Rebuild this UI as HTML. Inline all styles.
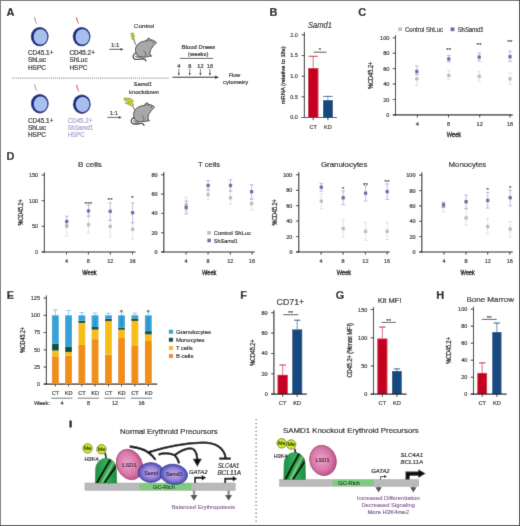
<!DOCTYPE html>
<html><head><meta charset="utf-8"><title>Figure</title>
<style>
html,body{margin:0;padding:0;background:#fff;}
body{width:520px;height:526px;overflow:hidden;}
svg{display:block;will-change:transform;font-family:"Liberation Sans", sans-serif;}
</style></head><body>
<svg width="520" height="526" viewBox="0 0 520 526">
<defs>
<radialGradient id="gp" cx="0.45" cy="0.45" r="0.6"><stop offset="0" stop-color="#eaa6c8"/><stop offset="0.6" stop-color="#d878a8"/><stop offset="1" stop-color="#b44884"/></radialGradient>
<radialGradient id="gb" cx="0.5" cy="0.5" r="0.55"><stop offset="0" stop-color="#c4a6e0"/><stop offset="0.5" stop-color="#9a88d4"/><stop offset="0.82" stop-color="#5a58c0"/><stop offset="1" stop-color="#333cac"/></radialGradient>
<linearGradient id="gn1" x1="0" x2="1"><stop offset="0" stop-color="#1f8e42"/><stop offset="0.5" stop-color="#34b05a"/><stop offset="1" stop-color="#1f8e42"/></linearGradient>
<linearGradient id="gn2" x1="0" x2="1"><stop offset="0" stop-color="#1f8e42"/><stop offset="0.5" stop-color="#34b05a"/><stop offset="1" stop-color="#1f8e42"/></linearGradient>
</defs><filter id="bl" filterUnits="userSpaceOnUse" x="0" y="0" width="520" height="526"><feConvolveMatrix order="3" kernelMatrix="0.01000 0.08000 0.01000 0.08000 0.64000 0.08000 0.01000 0.08000 0.01000" edgeMode="duplicate"/></filter>
<g filter="url(#bl)">
<rect x="0" y="0" width="520" height="526" fill="#fff" />
<text x="6.6" y="15.8" font-size="11" text-anchor="start" fill="#111" font-weight="bold" font-style="normal"  stroke="#111" stroke-width="0.2">A</text>
<text x="269.6" y="16.3" font-size="11" text-anchor="start" fill="#111" font-weight="bold" font-style="normal"  stroke="#111" stroke-width="0.2">B</text>
<text x="358.2" y="15.6" font-size="11" text-anchor="start" fill="#111" font-weight="bold" font-style="normal"  stroke="#111" stroke-width="0.2">C</text>
<text x="6.4" y="160.2" font-size="11" text-anchor="start" fill="#111" font-weight="bold" font-style="normal"  stroke="#111" stroke-width="0.2">D</text>
<text x="6.8" y="298.8" font-size="11" text-anchor="start" fill="#111" font-weight="bold" font-style="normal"  stroke="#111" stroke-width="0.2">E</text>
<text x="240.2" y="298.8" font-size="11" text-anchor="start" fill="#111" font-weight="bold" font-style="normal"  stroke="#111" stroke-width="0.2">F</text>
<text x="335.8" y="299.3" font-size="11" text-anchor="start" fill="#111" font-weight="bold" font-style="normal"  stroke="#111" stroke-width="0.2">G</text>
<text x="436.2" y="299.3" font-size="11" text-anchor="start" fill="#111" font-weight="bold" font-style="normal"  stroke="#111" stroke-width="0.2">H</text>
<text x="69.3" y="427.4" font-size="9.6" text-anchor="start" fill="#111" font-weight="bold" font-style="normal" stroke="#111" stroke-width="0.8">I</text>
<path d="M34.5,17.200000000000003 C35.300000000000004,18.6 34.800000000000004,20.200000000000003 35.5,21.400000000000002 C35.900000000000006,22.200000000000003 36.400000000000006,22.8 36.7,23.700000000000003" stroke="#8a8a8a" stroke-width="0.95" fill="none"/>
<ellipse cx="39.7" cy="36.6" rx="8.9" ry="9.7" fill="#1b2a80"/>
<ellipse cx="40.5" cy="36.9" rx="6.8" ry="7.6" fill="#a7bfee"/>
<path d="M76.39999999999999,17.200000000000003 C77.19999999999999,18.6 76.69999999999999,20.200000000000003 77.39999999999999,21.400000000000002 C77.8,22.200000000000003 78.3,22.8 78.6,23.700000000000003" stroke="#c8302a" stroke-width="0.95" fill="none"/>
<ellipse cx="81.6" cy="36.6" rx="8.9" ry="9.7" fill="#1b2a80"/>
<ellipse cx="82.39999999999999" cy="36.9" rx="6.8" ry="7.6" fill="#a7bfee"/>
<path d="M34.599999999999994,84.30000000000001 C35.4,85.7 34.9,87.30000000000001 35.599999999999994,88.5 C36.0,89.3 36.5,89.9 36.8,90.8" stroke="#8a8a8a" stroke-width="0.95" fill="none"/>
<ellipse cx="39.8" cy="103.7" rx="8.9" ry="9.7" fill="#1b2a80"/>
<ellipse cx="40.599999999999994" cy="104.0" rx="6.8" ry="7.6" fill="#a7bfee"/>
<path d="M76.6,84.80000000000001 C77.39999999999999,86.2 76.89999999999999,87.80000000000001 77.6,89.0 C78.0,89.8 78.5,90.4 78.8,91.3" stroke="#c8302a" stroke-width="0.95" fill="none"/>
<ellipse cx="81.8" cy="104.2" rx="8.9" ry="9.7" fill="#1b2a80"/>
<ellipse cx="82.6" cy="104.5" rx="6.8" ry="7.6" fill="#a7bfee"/>
<text x="28" y="55.0" font-size="6.4" text-anchor="start" fill="#222" font-weight="normal" font-style="normal"  stroke="#222" stroke-width="0.2">CD45.1+</text>
<text x="28" y="62.3" font-size="6.4" text-anchor="start" fill="#222" font-weight="normal" font-style="normal"  stroke="#222" stroke-width="0.2">ShLuc</text>
<text x="28" y="69.6" font-size="6.4" text-anchor="start" fill="#222" font-weight="normal" font-style="normal"  stroke="#222" stroke-width="0.2">HSPC</text>
<text x="69.5" y="55.0" font-size="6.4" text-anchor="start" fill="#222" font-weight="normal" font-style="normal"  stroke="#222" stroke-width="0.2">CD45.2+</text>
<text x="69.5" y="62.3" font-size="6.4" text-anchor="start" fill="#222" font-weight="normal" font-style="normal"  stroke="#222" stroke-width="0.2">ShLuc</text>
<text x="69.5" y="69.6" font-size="6.4" text-anchor="start" fill="#222" font-weight="normal" font-style="normal"  stroke="#222" stroke-width="0.2">HSPC</text>
<text x="28" y="122.7" font-size="6.4" text-anchor="start" fill="#222" font-weight="normal" font-style="normal"  stroke="#222" stroke-width="0.2">CD45.1+</text>
<text x="28" y="130.0" font-size="6.4" text-anchor="start" fill="#222" font-weight="normal" font-style="normal"  stroke="#222" stroke-width="0.2">ShLuc</text>
<text x="28" y="137.3" font-size="6.4" text-anchor="start" fill="#222" font-weight="normal" font-style="normal"  stroke="#222" stroke-width="0.2">HSPC</text>
<text x="67.7" y="122.6" font-size="6.4" fill="#a49ed6" textLength="24.6" lengthAdjust="spacingAndGlyphs" stroke="#a49ed6" stroke-width="0.2">CD45.2+</text>
<text x="67.7" y="129.6" font-size="6.4" fill="#a49ed6" textLength="25.2" lengthAdjust="spacingAndGlyphs" stroke="#a49ed6" stroke-width="0.2">Sh<tspan font-style="italic">Samd1</tspan></text>
<text x="67.7" y="136.6" font-size="6.4" fill="#a49ed6" textLength="17" lengthAdjust="spacingAndGlyphs" stroke="#a49ed6" stroke-width="0.2">HSPC</text>
<text x="115.1" y="46.6" font-size="6" text-anchor="middle" fill="#222" font-weight="normal" font-style="normal"  stroke="#222" stroke-width="0.2">1:1</text>
<line x1="109.2" y1="49.3" x2="121.1" y2="49.3" stroke="#222" stroke-width="0.8" />
<polygon points="123.6,49.3 120.6,47.9 120.6,50.699999999999996" fill="#222"/>
<text x="113.8" y="114.7" font-size="6" text-anchor="middle" fill="#222" font-weight="normal" font-style="normal"  stroke="#222" stroke-width="0.2">1:1</text>
<line x1="107.4" y1="117.4" x2="119.3" y2="117.4" stroke="#222" stroke-width="0.8" />
<polygon points="121.8,117.4 118.8,116.0 118.8,118.80000000000001" fill="#222"/>
<text x="144" y="27.6" font-size="6.1" text-anchor="middle" fill="#2a2a2a" font-weight="normal" font-style="normal" textLength="20.3" lengthAdjust="spacingAndGlyphs" stroke="#2a2a2a" stroke-width="0.2">Control</text>
<text x="142.8" y="86.1" font-size="6" text-anchor="middle" fill="#2a2a2a" font-weight="normal" font-style="italic" textLength="18.6" lengthAdjust="spacingAndGlyphs" stroke="#2a2a2a" stroke-width="0.2">Samd1</text>
<text x="143.9" y="93.8" font-size="6" text-anchor="middle" fill="#2a2a2a" font-weight="normal" font-style="normal" textLength="29.7" lengthAdjust="spacingAndGlyphs" stroke="#2a2a2a" stroke-width="0.2">knockdown</text>
<g transform="translate(1.9,-64.6)">
<path d="M134.8,117.6 C131.2,117.4 130.2,122 132.6,123.6 C135.2,125.2 139,123 142,123.5 C143.6,123.9 144.1,124.9 144.1,126" stroke="#1e1e1e" stroke-width="1.15" fill="none"/>
<path d="M134.6,119 C133.2,116.5 133.2,112.5 134.6,110.6 C136.2,107.8 139,106.4 142,105.8 C144.5,105.3 146.5,104.6 148.6,104.5 C150.8,104.4 152.8,105.4 154.7,107.1 C153.6,108.6 152.6,109.6 151.4,110.3 C150.6,111.8 149.6,113.2 148.8,114.3 C148.2,116 147.8,117.8 148,119.4 L149.8,120.6 L146.6,121.2 C143.6,121.8 140.2,122 137.6,121.4 C136.2,121 135.2,120.2 134.6,119 Z" fill="#a8a8a8" stroke="#2e2e2e" stroke-width="0.85"/>
<path d="M145.2,106 C144.6,104.2 145.4,102.8 146.9,102.8 C148.4,102.9 148.9,104.4 148.2,105.8" fill="#a8a8a8" stroke="#2e2e2e" stroke-width="0.8"/>
<path d="M146,105.4 C146,104.4 146.8,103.9 147.5,104.5" fill="none" stroke="#555" stroke-width="0.5"/>
<path d="M133.4,120.4 C133.2,122.8 137.6,123.4 139.4,121.6 C137.6,121.6 135,121.4 133.4,120.4 Z" fill="#fafafa" stroke="#2e2e2e" stroke-width="0.6"/>
<path d="M141.5,115.5 C143.6,116.4 144.4,118.6 143.6,121" stroke="#3a3a3a" stroke-width="0.6" fill="none"/>
<circle cx="151.2" cy="106.9" r="0.55" fill="#222"/>
</g>
<g transform="translate(0,0)">
<path d="M134.8,117.6 C131.2,117.4 130.2,122 132.6,123.6 C135.2,125.2 139,123 142,123.5 C143.6,123.9 144.1,124.9 144.1,126" stroke="#1e1e1e" stroke-width="1.15" fill="none"/>
<path d="M134.6,119 C133.2,116.5 133.2,112.5 134.6,110.6 C136.2,107.8 139,106.4 142,105.8 C144.5,105.3 146.5,104.6 148.6,104.5 C150.8,104.4 152.8,105.4 154.7,107.1 C153.6,108.6 152.6,109.6 151.4,110.3 C150.6,111.8 149.6,113.2 148.8,114.3 C148.2,116 147.8,117.8 148,119.4 L149.8,120.6 L146.6,121.2 C143.6,121.8 140.2,122 137.6,121.4 C136.2,121 135.2,120.2 134.6,119 Z" fill="#a8a8a8" stroke="#2e2e2e" stroke-width="0.85"/>
<path d="M145.2,106 C144.6,104.2 145.4,102.8 146.9,102.8 C148.4,102.9 148.9,104.4 148.2,105.8" fill="#a8a8a8" stroke="#2e2e2e" stroke-width="0.8"/>
<path d="M146,105.4 C146,104.4 146.8,103.9 147.5,104.5" fill="none" stroke="#555" stroke-width="0.5"/>
<path d="M133.4,120.4 C133.2,122.8 137.6,123.4 139.4,121.6 C137.6,121.6 135,121.4 133.4,120.4 Z" fill="#fafafa" stroke="#2e2e2e" stroke-width="0.6"/>
<path d="M141.5,115.5 C143.6,116.4 144.4,118.6 143.6,121" stroke="#3a3a3a" stroke-width="0.6" fill="none"/>
<circle cx="151.2" cy="106.9" r="0.55" fill="#222"/>
</g>
<g transform="translate(130.6,33) scale(1.0)">
<polygon points="0.6,0 3.4,0.4 2.2,2.6 4.2,3 2.4,5.4 3.8,5.8 4.2,8.2 1,5.6 2.2,5.2 0.4,3.2 1.8,2.8 0,1" fill="#c6d41e" stroke="#6e7410" stroke-width="0.55"/>
</g>
<line x1="134.2" y1="41" x2="135.8" y2="44.8" stroke="#3a3a78" stroke-width="0.9"/>
<line x1="132.6" y1="105.4" x2="134.6" y2="109.8" stroke="#3a3a78" stroke-width="0.9"/>
<polygon points="124,97.9 130.6,98.5 133.7,101.1 131.3,101.6 133.9,104.5 131.7,106.2 124.9,102.7 129.5,103.1 127.7,101.1 124.3,100.3" fill="#ccd81e" stroke="#6e7410" stroke-width="0.55" stroke-linejoin="round"/>
<path d="M126,99.3 L130.6,99.9 M126.4,101.6 L130.8,102.2" stroke="#a8b010" stroke-width="0.5"/>
<line x1="12" y1="78.1" x2="168.6" y2="78.1" stroke="#8a8a8a" stroke-width="1.1" stroke-dasharray="1 1.05"/>
<text x="198.4" y="48.7" font-size="5.8" text-anchor="middle" fill="#2a2a2a" font-weight="normal" font-style="normal" textLength="33.7" lengthAdjust="spacingAndGlyphs" stroke="#2a2a2a" stroke-width="0.2">Blood Draws</text>
<text x="198.2" y="55.6" font-size="5.8" text-anchor="middle" fill="#2a2a2a" font-weight="normal" font-style="normal" textLength="20.3" lengthAdjust="spacingAndGlyphs" stroke="#2a2a2a" stroke-width="0.2">(weeks)</text>
<line x1="179.8" y1="58.4" x2="213.1" y2="58.4" stroke="#3a3a3a" stroke-width="0.9" />
<text x="178.8" y="67.7" font-size="5.6" text-anchor="middle" fill="#222" font-weight="normal" font-style="normal"  stroke="#222" stroke-width="0.2">4</text>
<line x1="178.8" y1="68.8" x2="178.8" y2="73.5" stroke="#222" stroke-width="0.6" />
<polygon points="178.8,75.8 177.70000000000002,73 179.9,73" fill="#222"/>
<text x="189.7" y="67.7" font-size="5.6" text-anchor="middle" fill="#222" font-weight="normal" font-style="normal"  stroke="#222" stroke-width="0.2">8</text>
<line x1="189.7" y1="68.8" x2="189.7" y2="73.5" stroke="#222" stroke-width="0.6" />
<polygon points="189.7,75.8 188.6,73 190.79999999999998,73" fill="#222"/>
<text x="200.4" y="67.7" font-size="5.6" text-anchor="middle" fill="#222" font-weight="normal" font-style="normal"  stroke="#222" stroke-width="0.2">12</text>
<line x1="200.4" y1="68.8" x2="200.4" y2="73.5" stroke="#222" stroke-width="0.6" />
<polygon points="200.4,75.8 199.3,73 201.5,73" fill="#222"/>
<text x="209.9" y="67.7" font-size="5.6" text-anchor="middle" fill="#222" font-weight="normal" font-style="normal"  stroke="#222" stroke-width="0.2">16</text>
<line x1="209.9" y1="68.8" x2="209.9" y2="73.5" stroke="#222" stroke-width="0.6" />
<polygon points="209.9,75.8 208.8,73 211.0,73" fill="#222"/>
<line x1="172.5" y1="77.2" x2="216" y2="77.2" stroke="#1a1a1a" stroke-width="1.1" />
<polygon points="219,77.2 215,75.4 215,79" fill="#1a1a1a"/>
<text x="234.5" y="76.5" font-size="5.7" text-anchor="middle" fill="#2a2a2a" font-weight="normal" font-style="normal" textLength="11.7" lengthAdjust="spacingAndGlyphs" stroke="#2a2a2a" stroke-width="0.2">Flow</text>
<text x="235.6" y="84" font-size="5.8" text-anchor="middle" fill="#2a2a2a" font-weight="normal" font-style="normal" textLength="25" lengthAdjust="spacingAndGlyphs" stroke="#2a2a2a" stroke-width="0.2">cytometry</text>
<text x="320" y="28" font-size="8.6" text-anchor="middle" fill="#2a2a2a" font-weight="normal" font-style="italic" textLength="24" lengthAdjust="spacingAndGlyphs" stroke="#2a2a2a" stroke-width="0.2">Samd1</text>
<line x1="304.4" y1="32.199999999999996" x2="304.4" y2="118.05" stroke="#1e1e1e" stroke-width="1.1" />
<line x1="301.59999999999997" y1="34.8" x2="304.4" y2="34.8" stroke="#1e1e1e" stroke-width="0.9" />
<text x="297.79999999999995" y="36.779999999999994" font-size="5.5" text-anchor="end" fill="#2a2a2a" font-weight="normal" font-style="normal"  stroke="#2a2a2a" stroke-width="0.2">2.0</text>
<line x1="301.59999999999997" y1="55.5" x2="304.4" y2="55.5" stroke="#1e1e1e" stroke-width="0.9" />
<text x="297.79999999999995" y="57.48" font-size="5.5" text-anchor="end" fill="#2a2a2a" font-weight="normal" font-style="normal"  stroke="#2a2a2a" stroke-width="0.2">1.5</text>
<line x1="301.59999999999997" y1="76.2" x2="304.4" y2="76.2" stroke="#1e1e1e" stroke-width="0.9" />
<text x="297.79999999999995" y="78.18" font-size="5.5" text-anchor="end" fill="#2a2a2a" font-weight="normal" font-style="normal"  stroke="#2a2a2a" stroke-width="0.2">1.0</text>
<line x1="301.59999999999997" y1="96.8" x2="304.4" y2="96.8" stroke="#1e1e1e" stroke-width="0.9" />
<text x="297.79999999999995" y="98.78" font-size="5.5" text-anchor="end" fill="#2a2a2a" font-weight="normal" font-style="normal"  stroke="#2a2a2a" stroke-width="0.2">0.5</text>
<line x1="301.59999999999997" y1="117.5" x2="304.4" y2="117.5" stroke="#1e1e1e" stroke-width="0.9" />
<text x="297.79999999999995" y="119.48" font-size="5.5" text-anchor="end" fill="#2a2a2a" font-weight="normal" font-style="normal"  stroke="#2a2a2a" stroke-width="0.2">0.0</text>
<line x1="301.4" y1="117.5" x2="336.9" y2="117.5" stroke="#1e1e1e" stroke-width="1.2" />
<line x1="313.2" y1="117.5" x2="313.2" y2="120.1" stroke="#1e1e1e" stroke-width="0.9" />
<text x="313.2" y="128.7" font-size="5.6" text-anchor="middle" fill="#2a2a2a" font-weight="normal" font-style="normal"  stroke="#2a2a2a" stroke-width="0.2">CT</text>
<line x1="327.9" y1="117.5" x2="327.9" y2="120.1" stroke="#1e1e1e" stroke-width="0.9" />
<text x="327.9" y="128.7" font-size="5.6" text-anchor="middle" fill="#2a2a2a" font-weight="normal" font-style="normal"  stroke="#2a2a2a" stroke-width="0.2">KD</text>
<rect x="308.1" y="68" width="10.3" height="49.5" fill="#c60022" />
<rect x="323.0" y="100.1" width="9.9" height="17.4" fill="#124a80" />
<line x1="313.2" y1="68" x2="313.2" y2="56.3" stroke="#d85a6c" stroke-width="0.9" />
<line x1="308.6" y1="56.3" x2="317.8" y2="56.3" stroke="#c60022" stroke-width="0.9" />
<line x1="327.9" y1="100" x2="327.9" y2="96.4" stroke="#7d97c0" stroke-width="0.9" />
<line x1="323.2" y1="96.4" x2="332.6" y2="96.4" stroke="#124a80" stroke-width="0.9" />
<line x1="313.6" y1="52.2" x2="326.5" y2="52.2" stroke="#1e1e1e" stroke-width="0.8" />
<text x="320" y="52.2" font-size="6" text-anchor="middle" fill="#222" font-weight="normal" font-style="normal" letter-spacing="0.25" stroke="#222" stroke-width="0.1">*</text>
<text transform="translate(284.87399999999997,75.3) rotate(-90)" x="0" y="0" font-size="6.2" text-anchor="middle" fill="#1a1a1a" stroke="#1a1a1a" stroke-width="0.3" textLength="57.8" lengthAdjust="spacingAndGlyphs">mRNA (relative to 18s)</text>
<line x1="395.5" y1="35.199999999999996" x2="395.5" y2="115.45" stroke="#1e1e1e" stroke-width="1.1" />
<line x1="392.7" y1="37.8" x2="395.5" y2="37.8" stroke="#1e1e1e" stroke-width="0.9" />
<text x="389.4" y="39.815999999999995" font-size="5.6" text-anchor="end" fill="#2a2a2a" font-weight="normal" font-style="normal"  stroke="#2a2a2a" stroke-width="0.2">100</text>
<line x1="392.7" y1="53.2" x2="395.5" y2="53.2" stroke="#1e1e1e" stroke-width="0.9" />
<text x="389.4" y="55.216" font-size="5.6" text-anchor="end" fill="#2a2a2a" font-weight="normal" font-style="normal"  stroke="#2a2a2a" stroke-width="0.2">80</text>
<line x1="392.7" y1="68.6" x2="395.5" y2="68.6" stroke="#1e1e1e" stroke-width="0.9" />
<text x="389.4" y="70.616" font-size="5.6" text-anchor="end" fill="#2a2a2a" font-weight="normal" font-style="normal"  stroke="#2a2a2a" stroke-width="0.2">60</text>
<line x1="392.7" y1="84.1" x2="395.5" y2="84.1" stroke="#1e1e1e" stroke-width="0.9" />
<text x="389.4" y="86.116" font-size="5.6" text-anchor="end" fill="#2a2a2a" font-weight="normal" font-style="normal"  stroke="#2a2a2a" stroke-width="0.2">40</text>
<line x1="392.7" y1="99.5" x2="395.5" y2="99.5" stroke="#1e1e1e" stroke-width="0.9" />
<text x="389.4" y="101.516" font-size="5.6" text-anchor="end" fill="#2a2a2a" font-weight="normal" font-style="normal"  stroke="#2a2a2a" stroke-width="0.2">20</text>
<line x1="392.7" y1="114.9" x2="395.5" y2="114.9" stroke="#1e1e1e" stroke-width="0.9" />
<text x="389.4" y="116.91600000000001" font-size="5.6" text-anchor="end" fill="#2a2a2a" font-weight="normal" font-style="normal"  stroke="#2a2a2a" stroke-width="0.2">0</text>
<line x1="393" y1="114.9" x2="512.7" y2="114.9" stroke="#1e1e1e" stroke-width="1.2" />
<line x1="417.3" y1="114.9" x2="417.3" y2="117.5" stroke="#1e1e1e" stroke-width="0.9" />
<text x="417.3" y="125.80000000000001" font-size="5.6" text-anchor="middle" fill="#2a2a2a" font-weight="normal" font-style="normal"  stroke="#2a2a2a" stroke-width="0.2">4</text>
<line x1="448.5" y1="114.9" x2="448.5" y2="117.5" stroke="#1e1e1e" stroke-width="0.9" />
<text x="448.5" y="125.80000000000001" font-size="5.6" text-anchor="middle" fill="#2a2a2a" font-weight="normal" font-style="normal"  stroke="#2a2a2a" stroke-width="0.2">8</text>
<line x1="479.7" y1="114.9" x2="479.7" y2="117.5" stroke="#1e1e1e" stroke-width="0.9" />
<text x="479.7" y="125.80000000000001" font-size="5.6" text-anchor="middle" fill="#2a2a2a" font-weight="normal" font-style="normal"  stroke="#2a2a2a" stroke-width="0.2">12</text>
<line x1="510" y1="114.9" x2="510" y2="117.5" stroke="#1e1e1e" stroke-width="0.9" />
<text x="510" y="125.80000000000001" font-size="5.6" text-anchor="middle" fill="#2a2a2a" font-weight="normal" font-style="normal"  stroke="#2a2a2a" stroke-width="0.2">16</text>
<text x="454" y="137" font-size="7.4" text-anchor="middle" fill="#111" stroke="#111" stroke-width="0.38" textLength="14.4" lengthAdjust="spacingAndGlyphs">Week</text>
<text transform="translate(373.49,75.4) rotate(-90)" x="0" y="0" font-size="7" text-anchor="middle" fill="#1a1a1a" stroke="#1a1a1a" stroke-width="0.3" textLength="27.4" lengthAdjust="spacingAndGlyphs">%CD45.2+</text>
<rect x="398.3" y="27.4" width="3.6" height="3.6" fill="#bdbdbd" />
<text x="405" y="31.8" font-size="6.4" text-anchor="start" fill="#2a2a2a" font-weight="normal" font-style="normal" textLength="38" lengthAdjust="spacingAndGlyphs" stroke="#2a2a2a" stroke-width="0.2">Control ShLuc</text>
<rect x="450.6" y="27.4" width="3.8" height="3.8" fill="#6a6aa6" />
<text x="457.7" y="31.8" font-size="6.4" fill="#2a2a2a" textLength="25.9" lengthAdjust="spacingAndGlyphs" stroke="#2a2a2a" stroke-width="0.2">Sh<tspan font-style="italic">Samd1</tspan></text>
<line x1="416.8" y1="74.8" x2="416.8" y2="85.9" stroke="#d6d6d6" stroke-width="0.65" />
<line x1="414.90000000000003" y1="74.8" x2="418.7" y2="74.8" stroke="#d6d6d6" stroke-width="0.65" />
<line x1="414.90000000000003" y1="85.9" x2="418.7" y2="85.9" stroke="#d6d6d6" stroke-width="0.65" />
<rect x="415.15000000000003" y="77.14999999999999" width="3.3" height="3.3" fill="#bdbdbd" />
<line x1="416.8" y1="66" x2="416.8" y2="74.4" stroke="#9a9acc" stroke-width="0.65" />
<line x1="414.90000000000003" y1="66" x2="418.7" y2="66" stroke="#9a9acc" stroke-width="0.65" />
<line x1="414.90000000000003" y1="74.4" x2="418.7" y2="74.4" stroke="#9a9acc" stroke-width="0.65" />
<rect x="415.15000000000003" y="69.85" width="3.3" height="3.3" fill="#6a6aa6" />
<line x1="448.8" y1="70.8" x2="448.8" y2="79.7" stroke="#d6d6d6" stroke-width="0.65" />
<line x1="446.90000000000003" y1="70.8" x2="450.7" y2="70.8" stroke="#d6d6d6" stroke-width="0.65" />
<line x1="446.90000000000003" y1="79.7" x2="450.7" y2="79.7" stroke="#d6d6d6" stroke-width="0.65" />
<rect x="447.15000000000003" y="73.85" width="3.3" height="3.3" fill="#bdbdbd" />
<line x1="448.8" y1="55.4" x2="448.8" y2="62" stroke="#9a9acc" stroke-width="0.65" />
<line x1="446.90000000000003" y1="55.4" x2="450.7" y2="55.4" stroke="#9a9acc" stroke-width="0.65" />
<line x1="446.90000000000003" y1="62" x2="450.7" y2="62" stroke="#9a9acc" stroke-width="0.65" />
<rect x="447.15000000000003" y="57.25" width="3.3" height="3.3" fill="#6a6aa6" />
<line x1="479.2" y1="71.5" x2="479.2" y2="81" stroke="#d6d6d6" stroke-width="0.65" />
<line x1="477.3" y1="71.5" x2="481.09999999999997" y2="71.5" stroke="#d6d6d6" stroke-width="0.65" />
<line x1="477.3" y1="81" x2="481.09999999999997" y2="81" stroke="#d6d6d6" stroke-width="0.65" />
<rect x="477.55" y="74.75" width="3.3" height="3.3" fill="#bdbdbd" />
<line x1="479.2" y1="53.1" x2="479.2" y2="61.1" stroke="#9a9acc" stroke-width="0.65" />
<line x1="477.3" y1="53.1" x2="481.09999999999997" y2="53.1" stroke="#9a9acc" stroke-width="0.65" />
<line x1="477.3" y1="61.1" x2="481.09999999999997" y2="61.1" stroke="#9a9acc" stroke-width="0.65" />
<rect x="477.55" y="55.45" width="3.3" height="3.3" fill="#6a6aa6" />
<line x1="510" y1="73" x2="510" y2="84.1" stroke="#d6d6d6" stroke-width="0.65" />
<line x1="508.1" y1="73" x2="511.9" y2="73" stroke="#d6d6d6" stroke-width="0.65" />
<line x1="508.1" y1="84.1" x2="511.9" y2="84.1" stroke="#d6d6d6" stroke-width="0.65" />
<rect x="508.35" y="77.14999999999999" width="3.3" height="3.3" fill="#bdbdbd" />
<line x1="510" y1="51.2" x2="510" y2="61.5" stroke="#9a9acc" stroke-width="0.65" />
<line x1="508.1" y1="51.2" x2="511.9" y2="51.2" stroke="#9a9acc" stroke-width="0.65" />
<line x1="508.1" y1="61.5" x2="511.9" y2="61.5" stroke="#9a9acc" stroke-width="0.65" />
<rect x="508.35" y="55.050000000000004" width="3.3" height="3.3" fill="#6a6aa6" />
<text x="448.8" y="51.9" font-size="6" text-anchor="middle" fill="#222" font-weight="normal" font-style="normal" letter-spacing="0.25" stroke="#222" stroke-width="0.1">**</text>
<text x="479.2" y="47.0" font-size="6" text-anchor="middle" fill="#222" font-weight="normal" font-style="normal" letter-spacing="0.25" stroke="#222" stroke-width="0.1">**</text>
<text x="510" y="43.5" font-size="6" text-anchor="middle" fill="#222" font-weight="normal" font-style="normal" letter-spacing="0.25" stroke="#222" stroke-width="0.1">**</text>
<line x1="44.4" y1="172.4" x2="44.4" y2="252.55" stroke="#1e1e1e" stroke-width="1.1" />
<line x1="41.6" y1="175" x2="44.4" y2="175" stroke="#1e1e1e" stroke-width="0.9" />
<text x="38.1" y="176.98" font-size="5.5" text-anchor="end" fill="#2a2a2a" font-weight="normal" font-style="normal"  stroke="#2a2a2a" stroke-width="0.2">150</text>
<line x1="41.6" y1="200.7" x2="44.4" y2="200.7" stroke="#1e1e1e" stroke-width="0.9" />
<text x="38.1" y="202.67999999999998" font-size="5.5" text-anchor="end" fill="#2a2a2a" font-weight="normal" font-style="normal"  stroke="#2a2a2a" stroke-width="0.2">100</text>
<line x1="41.6" y1="226.3" x2="44.4" y2="226.3" stroke="#1e1e1e" stroke-width="0.9" />
<text x="38.1" y="228.28" font-size="5.5" text-anchor="end" fill="#2a2a2a" font-weight="normal" font-style="normal"  stroke="#2a2a2a" stroke-width="0.2">50</text>
<line x1="41.6" y1="252" x2="44.4" y2="252" stroke="#1e1e1e" stroke-width="0.9" />
<text x="38.1" y="253.98" font-size="5.5" text-anchor="end" fill="#2a2a2a" font-weight="normal" font-style="normal"  stroke="#2a2a2a" stroke-width="0.2">0</text>
<line x1="41.8" y1="252" x2="135.5" y2="252" stroke="#1e1e1e" stroke-width="1.2" />
<line x1="66.5" y1="252" x2="66.5" y2="254.6" stroke="#1e1e1e" stroke-width="0.9" />
<text x="66.5" y="263.1" font-size="5.5" text-anchor="middle" fill="#2a2a2a" font-weight="normal" font-style="normal"  stroke="#2a2a2a" stroke-width="0.2">4</text>
<line x1="88.4" y1="252" x2="88.4" y2="254.6" stroke="#1e1e1e" stroke-width="0.9" />
<text x="88.4" y="263.1" font-size="5.5" text-anchor="middle" fill="#2a2a2a" font-weight="normal" font-style="normal"  stroke="#2a2a2a" stroke-width="0.2">8</text>
<line x1="110.3" y1="252" x2="110.3" y2="254.6" stroke="#1e1e1e" stroke-width="0.9" />
<text x="110.3" y="263.1" font-size="5.5" text-anchor="middle" fill="#2a2a2a" font-weight="normal" font-style="normal"  stroke="#2a2a2a" stroke-width="0.2">12</text>
<line x1="132.5" y1="252" x2="132.5" y2="254.6" stroke="#1e1e1e" stroke-width="0.9" />
<text x="132.5" y="263.1" font-size="5.5" text-anchor="middle" fill="#2a2a2a" font-weight="normal" font-style="normal"  stroke="#2a2a2a" stroke-width="0.2">16</text>
<text x="90" y="167.1" font-size="8" text-anchor="middle" fill="#1e1e1e" font-weight="normal" font-style="normal" textLength="23.8" lengthAdjust="spacingAndGlyphs" stroke="#1e1e1e" stroke-width="0.2">B cells</text>
<text x="89.5" y="274.6" font-size="7.4" text-anchor="middle" fill="#111" stroke="#111" stroke-width="0.38" textLength="14.4" lengthAdjust="spacingAndGlyphs">Week</text>
<text transform="translate(22.582,212.4) rotate(-90)" x="0" y="0" font-size="6.6" text-anchor="middle" fill="#1a1a1a" stroke="#1a1a1a" stroke-width="0.3" textLength="26.2" lengthAdjust="spacingAndGlyphs">%CD45.2+</text>
<line x1="66.7" y1="221" x2="66.7" y2="235.9" stroke="#d6d6d6" stroke-width="0.65" />
<line x1="64.8" y1="221" x2="68.60000000000001" y2="221" stroke="#d6d6d6" stroke-width="0.65" />
<line x1="64.8" y1="235.9" x2="68.60000000000001" y2="235.9" stroke="#d6d6d6" stroke-width="0.65" />
<rect x="65.05" y="224.75" width="3.3" height="3.3" fill="#bdbdbd" />
<line x1="66.7" y1="216.2" x2="66.7" y2="225" stroke="#9a9acc" stroke-width="0.65" />
<line x1="64.8" y1="216.2" x2="68.60000000000001" y2="216.2" stroke="#9a9acc" stroke-width="0.65" />
<line x1="64.8" y1="225" x2="68.60000000000001" y2="225" stroke="#9a9acc" stroke-width="0.65" />
<rect x="65.05" y="219.85" width="3.3" height="3.3" fill="#6a6aa6" />
<line x1="88.5" y1="216" x2="88.5" y2="232.9" stroke="#d6d6d6" stroke-width="0.65" />
<line x1="86.6" y1="216" x2="90.4" y2="216" stroke="#d6d6d6" stroke-width="0.65" />
<line x1="86.6" y1="232.9" x2="90.4" y2="232.9" stroke="#d6d6d6" stroke-width="0.65" />
<rect x="86.85" y="223.04999999999998" width="3.3" height="3.3" fill="#bdbdbd" />
<line x1="88.5" y1="205.1" x2="88.5" y2="216.2" stroke="#9a9acc" stroke-width="0.65" />
<line x1="86.6" y1="205.1" x2="90.4" y2="205.1" stroke="#9a9acc" stroke-width="0.65" />
<line x1="86.6" y1="216.2" x2="90.4" y2="216.2" stroke="#9a9acc" stroke-width="0.65" />
<rect x="86.85" y="209.25" width="3.3" height="3.3" fill="#6a6aa6" />
<line x1="110.2" y1="220.3" x2="110.2" y2="236.7" stroke="#d6d6d6" stroke-width="0.65" />
<line x1="108.3" y1="220.3" x2="112.10000000000001" y2="220.3" stroke="#d6d6d6" stroke-width="0.65" />
<line x1="108.3" y1="236.7" x2="112.10000000000001" y2="236.7" stroke="#d6d6d6" stroke-width="0.65" />
<rect x="108.55" y="224.75" width="3.3" height="3.3" fill="#bdbdbd" />
<line x1="110.2" y1="202.8" x2="110.2" y2="220.3" stroke="#9a9acc" stroke-width="0.65" />
<line x1="108.3" y1="202.8" x2="112.10000000000001" y2="202.8" stroke="#9a9acc" stroke-width="0.65" />
<line x1="108.3" y1="220.3" x2="112.10000000000001" y2="220.3" stroke="#9a9acc" stroke-width="0.65" />
<rect x="108.55" y="209.65" width="3.3" height="3.3" fill="#6a6aa6" />
<line x1="132.6" y1="222.8" x2="132.6" y2="239.1" stroke="#d6d6d6" stroke-width="0.65" />
<line x1="130.7" y1="222.8" x2="134.5" y2="222.8" stroke="#d6d6d6" stroke-width="0.65" />
<line x1="130.7" y1="239.1" x2="134.5" y2="239.1" stroke="#d6d6d6" stroke-width="0.65" />
<rect x="130.95" y="227.65" width="3.3" height="3.3" fill="#bdbdbd" />
<line x1="132.6" y1="202.8" x2="132.6" y2="222.8" stroke="#9a9acc" stroke-width="0.65" />
<line x1="130.7" y1="202.8" x2="134.5" y2="202.8" stroke="#9a9acc" stroke-width="0.65" />
<line x1="130.7" y1="222.8" x2="134.5" y2="222.8" stroke="#9a9acc" stroke-width="0.65" />
<rect x="130.95" y="211.04999999999998" width="3.3" height="3.3" fill="#6a6aa6" />
<text x="88.5" y="205.5" font-size="6" text-anchor="middle" fill="#222" font-weight="normal" font-style="normal" letter-spacing="0.25" stroke="#222" stroke-width="0.1">***</text>
<text x="110.2" y="201.5" font-size="6" text-anchor="middle" fill="#222" font-weight="normal" font-style="normal" letter-spacing="0.25" stroke="#222" stroke-width="0.1">**</text>
<text x="132.6" y="200.2" font-size="6" text-anchor="middle" fill="#222" font-weight="normal" font-style="normal" letter-spacing="0.25" stroke="#222" stroke-width="0.1">*</text>
<line x1="163.8" y1="172.20000000000002" x2="163.8" y2="252.55" stroke="#1e1e1e" stroke-width="1.1" />
<line x1="161.0" y1="174.8" x2="163.8" y2="174.8" stroke="#1e1e1e" stroke-width="0.9" />
<text x="157.5" y="176.78" font-size="5.5" text-anchor="end" fill="#2a2a2a" font-weight="normal" font-style="normal"  stroke="#2a2a2a" stroke-width="0.2">80</text>
<line x1="161.0" y1="194.1" x2="163.8" y2="194.1" stroke="#1e1e1e" stroke-width="0.9" />
<text x="157.5" y="196.07999999999998" font-size="5.5" text-anchor="end" fill="#2a2a2a" font-weight="normal" font-style="normal"  stroke="#2a2a2a" stroke-width="0.2">60</text>
<line x1="161.0" y1="213.4" x2="163.8" y2="213.4" stroke="#1e1e1e" stroke-width="0.9" />
<text x="157.5" y="215.38" font-size="5.5" text-anchor="end" fill="#2a2a2a" font-weight="normal" font-style="normal"  stroke="#2a2a2a" stroke-width="0.2">40</text>
<line x1="161.0" y1="232.7" x2="163.8" y2="232.7" stroke="#1e1e1e" stroke-width="0.9" />
<text x="157.5" y="234.67999999999998" font-size="5.5" text-anchor="end" fill="#2a2a2a" font-weight="normal" font-style="normal"  stroke="#2a2a2a" stroke-width="0.2">20</text>
<line x1="161.0" y1="252" x2="163.8" y2="252" stroke="#1e1e1e" stroke-width="0.9" />
<text x="157.5" y="253.98" font-size="5.5" text-anchor="end" fill="#2a2a2a" font-weight="normal" font-style="normal"  stroke="#2a2a2a" stroke-width="0.2">0</text>
<line x1="161.20000000000002" y1="252" x2="254.8" y2="252" stroke="#1e1e1e" stroke-width="1.2" />
<line x1="186.1" y1="252" x2="186.1" y2="254.6" stroke="#1e1e1e" stroke-width="0.9" />
<text x="186.1" y="263.1" font-size="5.5" text-anchor="middle" fill="#2a2a2a" font-weight="normal" font-style="normal"  stroke="#2a2a2a" stroke-width="0.2">4</text>
<line x1="208.1" y1="252" x2="208.1" y2="254.6" stroke="#1e1e1e" stroke-width="0.9" />
<text x="208.1" y="263.1" font-size="5.5" text-anchor="middle" fill="#2a2a2a" font-weight="normal" font-style="normal"  stroke="#2a2a2a" stroke-width="0.2">8</text>
<line x1="230.3" y1="252" x2="230.3" y2="254.6" stroke="#1e1e1e" stroke-width="0.9" />
<text x="230.3" y="263.1" font-size="5.5" text-anchor="middle" fill="#2a2a2a" font-weight="normal" font-style="normal"  stroke="#2a2a2a" stroke-width="0.2">12</text>
<line x1="252.1" y1="252" x2="252.1" y2="254.6" stroke="#1e1e1e" stroke-width="0.9" />
<text x="252.1" y="263.1" font-size="5.5" text-anchor="middle" fill="#2a2a2a" font-weight="normal" font-style="normal"  stroke="#2a2a2a" stroke-width="0.2">16</text>
<text x="209.1" y="167.1" font-size="8" text-anchor="middle" fill="#1e1e1e" font-weight="normal" font-style="normal" textLength="22.2" lengthAdjust="spacingAndGlyphs" stroke="#1e1e1e" stroke-width="0.2">T cells</text>
<text x="209.2" y="274.6" font-size="7.4" text-anchor="middle" fill="#111" stroke="#111" stroke-width="0.38" textLength="14.4" lengthAdjust="spacingAndGlyphs">Week</text>
<line x1="186.2" y1="197" x2="186.2" y2="210.9" stroke="#d6d6d6" stroke-width="0.65" />
<line x1="184.29999999999998" y1="197" x2="188.1" y2="197" stroke="#d6d6d6" stroke-width="0.65" />
<line x1="184.29999999999998" y1="210.9" x2="188.1" y2="210.9" stroke="#d6d6d6" stroke-width="0.65" />
<rect x="184.54999999999998" y="203.45" width="3.3" height="3.3" fill="#bdbdbd" />
<line x1="186.2" y1="201" x2="186.2" y2="213.8" stroke="#9a9acc" stroke-width="0.65" />
<line x1="184.29999999999998" y1="201" x2="188.1" y2="201" stroke="#9a9acc" stroke-width="0.65" />
<line x1="184.29999999999998" y1="213.8" x2="188.1" y2="213.8" stroke="#9a9acc" stroke-width="0.65" />
<rect x="184.54999999999998" y="205.95" width="3.3" height="3.3" fill="#6a6aa6" />
<line x1="208.1" y1="189.3" x2="208.1" y2="199.7" stroke="#d6d6d6" stroke-width="0.65" />
<line x1="206.2" y1="189.3" x2="210.0" y2="189.3" stroke="#d6d6d6" stroke-width="0.65" />
<line x1="206.2" y1="199.7" x2="210.0" y2="199.7" stroke="#d6d6d6" stroke-width="0.65" />
<rect x="206.45" y="192.85" width="3.3" height="3.3" fill="#bdbdbd" />
<line x1="208.1" y1="180.6" x2="208.1" y2="190.4" stroke="#9a9acc" stroke-width="0.65" />
<line x1="206.2" y1="180.6" x2="210.0" y2="180.6" stroke="#9a9acc" stroke-width="0.65" />
<line x1="206.2" y1="190.4" x2="210.0" y2="190.4" stroke="#9a9acc" stroke-width="0.65" />
<rect x="206.45" y="183.85" width="3.3" height="3.3" fill="#6a6aa6" />
<line x1="230.5" y1="191.2" x2="230.5" y2="204.3" stroke="#d6d6d6" stroke-width="0.65" />
<line x1="228.6" y1="191.2" x2="232.4" y2="191.2" stroke="#d6d6d6" stroke-width="0.65" />
<line x1="228.6" y1="204.3" x2="232.4" y2="204.3" stroke="#d6d6d6" stroke-width="0.65" />
<rect x="228.85" y="196.15" width="3.3" height="3.3" fill="#bdbdbd" />
<line x1="230.5" y1="179.8" x2="230.5" y2="191.2" stroke="#9a9acc" stroke-width="0.65" />
<line x1="228.6" y1="179.8" x2="232.4" y2="179.8" stroke="#9a9acc" stroke-width="0.65" />
<line x1="228.6" y1="191.2" x2="232.4" y2="191.2" stroke="#9a9acc" stroke-width="0.65" />
<rect x="228.85" y="183.85" width="3.3" height="3.3" fill="#6a6aa6" />
<line x1="251.6" y1="199.1" x2="251.6" y2="210" stroke="#d6d6d6" stroke-width="0.65" />
<line x1="249.7" y1="199.1" x2="253.5" y2="199.1" stroke="#d6d6d6" stroke-width="0.65" />
<line x1="249.7" y1="210" x2="253.5" y2="210" stroke="#d6d6d6" stroke-width="0.65" />
<rect x="249.95" y="201.85" width="3.3" height="3.3" fill="#bdbdbd" />
<line x1="251.6" y1="184.7" x2="251.6" y2="199.1" stroke="#9a9acc" stroke-width="0.65" />
<line x1="249.7" y1="184.7" x2="253.5" y2="184.7" stroke="#9a9acc" stroke-width="0.65" />
<line x1="249.7" y1="199.1" x2="253.5" y2="199.1" stroke="#9a9acc" stroke-width="0.65" />
<rect x="249.95" y="190.04999999999998" width="3.3" height="3.3" fill="#6a6aa6" />
<rect x="207.3" y="231" width="3.5" height="3.5" fill="#bdbdbd" />
<text x="213.8" y="235.2" font-size="6.2" text-anchor="start" fill="#2a2a2a" font-weight="normal" font-style="normal" textLength="37.3" lengthAdjust="spacingAndGlyphs" stroke="#2a2a2a" stroke-width="0.2">Control ShLuc</text>
<rect x="207.3" y="238.7" width="3.6" height="3.6" fill="#6a6aa6" />
<text x="213.8" y="242.6" font-size="6.2" fill="#2a2a2a" textLength="24" lengthAdjust="spacingAndGlyphs" stroke="#2a2a2a" stroke-width="0.2">Sh<tspan font-style="italic">Samd1</tspan></text>
<line x1="298.75" y1="172.20000000000002" x2="298.75" y2="252.55" stroke="#1e1e1e" stroke-width="1.1" />
<line x1="295.95" y1="174.8" x2="298.75" y2="174.8" stroke="#1e1e1e" stroke-width="0.9" />
<text x="292.45" y="176.78" font-size="5.5" text-anchor="end" fill="#2a2a2a" font-weight="normal" font-style="normal"  stroke="#2a2a2a" stroke-width="0.2">100</text>
<line x1="295.95" y1="190.3" x2="298.75" y2="190.3" stroke="#1e1e1e" stroke-width="0.9" />
<text x="292.45" y="192.28" font-size="5.5" text-anchor="end" fill="#2a2a2a" font-weight="normal" font-style="normal"  stroke="#2a2a2a" stroke-width="0.2">80</text>
<line x1="295.95" y1="205.7" x2="298.75" y2="205.7" stroke="#1e1e1e" stroke-width="0.9" />
<text x="292.45" y="207.67999999999998" font-size="5.5" text-anchor="end" fill="#2a2a2a" font-weight="normal" font-style="normal"  stroke="#2a2a2a" stroke-width="0.2">60</text>
<line x1="295.95" y1="221.1" x2="298.75" y2="221.1" stroke="#1e1e1e" stroke-width="0.9" />
<text x="292.45" y="223.07999999999998" font-size="5.5" text-anchor="end" fill="#2a2a2a" font-weight="normal" font-style="normal"  stroke="#2a2a2a" stroke-width="0.2">40</text>
<line x1="295.95" y1="236.6" x2="298.75" y2="236.6" stroke="#1e1e1e" stroke-width="0.9" />
<text x="292.45" y="238.57999999999998" font-size="5.5" text-anchor="end" fill="#2a2a2a" font-weight="normal" font-style="normal"  stroke="#2a2a2a" stroke-width="0.2">20</text>
<line x1="295.95" y1="252" x2="298.75" y2="252" stroke="#1e1e1e" stroke-width="0.9" />
<text x="292.45" y="253.98" font-size="5.5" text-anchor="end" fill="#2a2a2a" font-weight="normal" font-style="normal"  stroke="#2a2a2a" stroke-width="0.2">0</text>
<line x1="296.15" y1="252" x2="389.8" y2="252" stroke="#1e1e1e" stroke-width="1.2" />
<line x1="321.1" y1="252" x2="321.1" y2="254.6" stroke="#1e1e1e" stroke-width="0.9" />
<text x="321.1" y="263.1" font-size="5.5" text-anchor="middle" fill="#2a2a2a" font-weight="normal" font-style="normal"  stroke="#2a2a2a" stroke-width="0.2">4</text>
<line x1="343.1" y1="252" x2="343.1" y2="254.6" stroke="#1e1e1e" stroke-width="0.9" />
<text x="343.1" y="263.1" font-size="5.5" text-anchor="middle" fill="#2a2a2a" font-weight="normal" font-style="normal"  stroke="#2a2a2a" stroke-width="0.2">8</text>
<line x1="365.4" y1="252" x2="365.4" y2="254.6" stroke="#1e1e1e" stroke-width="0.9" />
<text x="365.4" y="263.1" font-size="5.5" text-anchor="middle" fill="#2a2a2a" font-weight="normal" font-style="normal"  stroke="#2a2a2a" stroke-width="0.2">12</text>
<line x1="387.1" y1="252" x2="387.1" y2="254.6" stroke="#1e1e1e" stroke-width="0.9" />
<text x="387.1" y="263.1" font-size="5.5" text-anchor="middle" fill="#2a2a2a" font-weight="normal" font-style="normal"  stroke="#2a2a2a" stroke-width="0.2">16</text>
<text x="344.2" y="167.1" font-size="8" text-anchor="middle" fill="#1e1e1e" font-weight="normal" font-style="normal" textLength="46.5" lengthAdjust="spacingAndGlyphs" stroke="#1e1e1e" stroke-width="0.2">Granulocytes</text>
<text x="344" y="274.6" font-size="7.4" text-anchor="middle" fill="#111" stroke="#111" stroke-width="0.38" textLength="14.4" lengthAdjust="spacingAndGlyphs">Week</text>
<text transform="translate(276.68199999999996,212.5) rotate(-90)" x="0" y="0" font-size="6.6" text-anchor="middle" fill="#1a1a1a" stroke="#1a1a1a" stroke-width="0.3" textLength="26.2" lengthAdjust="spacingAndGlyphs">%CD45.2+</text>
<line x1="321.3" y1="193.7" x2="321.3" y2="208.9" stroke="#d6d6d6" stroke-width="0.65" />
<line x1="319.40000000000003" y1="193.7" x2="323.2" y2="193.7" stroke="#d6d6d6" stroke-width="0.65" />
<line x1="319.40000000000003" y1="208.9" x2="323.2" y2="208.9" stroke="#d6d6d6" stroke-width="0.65" />
<rect x="319.65000000000003" y="199.45" width="3.3" height="3.3" fill="#bdbdbd" />
<line x1="321.3" y1="183.4" x2="321.3" y2="191.2" stroke="#9a9acc" stroke-width="0.65" />
<line x1="319.40000000000003" y1="183.4" x2="323.2" y2="183.4" stroke="#9a9acc" stroke-width="0.65" />
<line x1="319.40000000000003" y1="191.2" x2="323.2" y2="191.2" stroke="#9a9acc" stroke-width="0.65" />
<rect x="319.65000000000003" y="185.54999999999998" width="3.3" height="3.3" fill="#6a6aa6" />
<line x1="343.2" y1="219.4" x2="343.2" y2="237" stroke="#d6d6d6" stroke-width="0.65" />
<line x1="341.3" y1="219.4" x2="345.09999999999997" y2="219.4" stroke="#d6d6d6" stroke-width="0.65" />
<line x1="341.3" y1="237" x2="345.09999999999997" y2="237" stroke="#d6d6d6" stroke-width="0.65" />
<rect x="341.55" y="226.85" width="3.3" height="3.3" fill="#bdbdbd" />
<line x1="343.2" y1="190.9" x2="343.2" y2="204.8" stroke="#9a9acc" stroke-width="0.65" />
<line x1="341.3" y1="190.9" x2="345.09999999999997" y2="190.9" stroke="#9a9acc" stroke-width="0.65" />
<line x1="341.3" y1="204.8" x2="345.09999999999997" y2="204.8" stroke="#9a9acc" stroke-width="0.65" />
<rect x="341.55" y="196.15" width="3.3" height="3.3" fill="#6a6aa6" />
<line x1="365.6" y1="222.3" x2="365.6" y2="240.3" stroke="#d6d6d6" stroke-width="0.65" />
<line x1="363.70000000000005" y1="222.3" x2="367.5" y2="222.3" stroke="#d6d6d6" stroke-width="0.65" />
<line x1="363.70000000000005" y1="240.3" x2="367.5" y2="240.3" stroke="#d6d6d6" stroke-width="0.65" />
<rect x="363.95000000000005" y="229.65" width="3.3" height="3.3" fill="#bdbdbd" />
<line x1="365.6" y1="185.5" x2="365.6" y2="201.1" stroke="#9a9acc" stroke-width="0.65" />
<line x1="363.70000000000005" y1="185.5" x2="367.5" y2="185.5" stroke="#9a9acc" stroke-width="0.65" />
<line x1="363.70000000000005" y1="201.1" x2="367.5" y2="201.1" stroke="#9a9acc" stroke-width="0.65" />
<rect x="363.95000000000005" y="191.54999999999998" width="3.3" height="3.3" fill="#6a6aa6" />
<line x1="387.2" y1="222.6" x2="387.2" y2="239.5" stroke="#d6d6d6" stroke-width="0.65" />
<line x1="385.3" y1="222.6" x2="389.09999999999997" y2="222.6" stroke="#d6d6d6" stroke-width="0.65" />
<line x1="385.3" y1="239.5" x2="389.09999999999997" y2="239.5" stroke="#d6d6d6" stroke-width="0.65" />
<rect x="385.55" y="229.65" width="3.3" height="3.3" fill="#bdbdbd" />
<line x1="387.2" y1="183.9" x2="387.2" y2="199.4" stroke="#9a9acc" stroke-width="0.65" />
<line x1="385.3" y1="183.9" x2="389.09999999999997" y2="183.9" stroke="#9a9acc" stroke-width="0.65" />
<line x1="385.3" y1="199.4" x2="389.09999999999997" y2="199.4" stroke="#9a9acc" stroke-width="0.65" />
<rect x="385.55" y="189.95" width="3.3" height="3.3" fill="#6a6aa6" />
<text x="343.2" y="191.29999999999998" font-size="6" text-anchor="middle" fill="#222" font-weight="normal" font-style="normal" letter-spacing="0.25" stroke="#222" stroke-width="0.1">*</text>
<text x="365.6" y="186.7" font-size="6" text-anchor="middle" fill="#222" font-weight="normal" font-style="normal" letter-spacing="0.25" stroke="#222" stroke-width="0.1">**</text>
<text x="387.2" y="184.2" font-size="6" text-anchor="middle" fill="#222" font-weight="normal" font-style="normal" letter-spacing="0.25" stroke="#222" stroke-width="0.1">**</text>
<line x1="421.8" y1="172.6" x2="421.8" y2="252.55" stroke="#1e1e1e" stroke-width="1.1" />
<line x1="419.0" y1="175.2" x2="421.8" y2="175.2" stroke="#1e1e1e" stroke-width="0.9" />
<text x="415.5" y="177.17999999999998" font-size="5.5" text-anchor="end" fill="#2a2a2a" font-weight="normal" font-style="normal"  stroke="#2a2a2a" stroke-width="0.2">100</text>
<line x1="419.0" y1="190.6" x2="421.8" y2="190.6" stroke="#1e1e1e" stroke-width="0.9" />
<text x="415.5" y="192.57999999999998" font-size="5.5" text-anchor="end" fill="#2a2a2a" font-weight="normal" font-style="normal"  stroke="#2a2a2a" stroke-width="0.2">80</text>
<line x1="419.0" y1="205.9" x2="421.8" y2="205.9" stroke="#1e1e1e" stroke-width="0.9" />
<text x="415.5" y="207.88" font-size="5.5" text-anchor="end" fill="#2a2a2a" font-weight="normal" font-style="normal"  stroke="#2a2a2a" stroke-width="0.2">60</text>
<line x1="419.0" y1="221.3" x2="421.8" y2="221.3" stroke="#1e1e1e" stroke-width="0.9" />
<text x="415.5" y="223.28" font-size="5.5" text-anchor="end" fill="#2a2a2a" font-weight="normal" font-style="normal"  stroke="#2a2a2a" stroke-width="0.2">40</text>
<line x1="419.0" y1="236.6" x2="421.8" y2="236.6" stroke="#1e1e1e" stroke-width="0.9" />
<text x="415.5" y="238.57999999999998" font-size="5.5" text-anchor="end" fill="#2a2a2a" font-weight="normal" font-style="normal"  stroke="#2a2a2a" stroke-width="0.2">20</text>
<line x1="419.0" y1="252" x2="421.8" y2="252" stroke="#1e1e1e" stroke-width="0.9" />
<text x="415.5" y="253.98" font-size="5.5" text-anchor="end" fill="#2a2a2a" font-weight="normal" font-style="normal"  stroke="#2a2a2a" stroke-width="0.2">0</text>
<line x1="419.2" y1="252" x2="512.8" y2="252" stroke="#1e1e1e" stroke-width="1.2" />
<line x1="444.1" y1="252" x2="444.1" y2="254.6" stroke="#1e1e1e" stroke-width="0.9" />
<text x="444.1" y="263.1" font-size="5.5" text-anchor="middle" fill="#2a2a2a" font-weight="normal" font-style="normal"  stroke="#2a2a2a" stroke-width="0.2">4</text>
<line x1="466" y1="252" x2="466" y2="254.6" stroke="#1e1e1e" stroke-width="0.9" />
<text x="466" y="263.1" font-size="5.5" text-anchor="middle" fill="#2a2a2a" font-weight="normal" font-style="normal"  stroke="#2a2a2a" stroke-width="0.2">8</text>
<line x1="487.7" y1="252" x2="487.7" y2="254.6" stroke="#1e1e1e" stroke-width="0.9" />
<text x="487.7" y="263.1" font-size="5.5" text-anchor="middle" fill="#2a2a2a" font-weight="normal" font-style="normal"  stroke="#2a2a2a" stroke-width="0.2">12</text>
<line x1="509.8" y1="252" x2="509.8" y2="254.6" stroke="#1e1e1e" stroke-width="0.9" />
<text x="509.8" y="263.1" font-size="5.5" text-anchor="middle" fill="#2a2a2a" font-weight="normal" font-style="normal"  stroke="#2a2a2a" stroke-width="0.2">16</text>
<text x="467.4" y="167.1" font-size="8" text-anchor="middle" fill="#1e1e1e" font-weight="normal" font-style="normal" textLength="37.6" lengthAdjust="spacingAndGlyphs" stroke="#1e1e1e" stroke-width="0.2">Monocytes</text>
<text x="467.6" y="274.6" font-size="7.4" text-anchor="middle" fill="#111" stroke="#111" stroke-width="0.38" textLength="14.4" lengthAdjust="spacingAndGlyphs">Week</text>
<line x1="443.5" y1="202.9" x2="443.5" y2="211.9" stroke="#d6d6d6" stroke-width="0.65" />
<line x1="441.6" y1="202.9" x2="445.4" y2="202.9" stroke="#d6d6d6" stroke-width="0.65" />
<line x1="441.6" y1="211.9" x2="445.4" y2="211.9" stroke="#d6d6d6" stroke-width="0.65" />
<rect x="441.85" y="204.54999999999998" width="3.3" height="3.3" fill="#bdbdbd" />
<line x1="443.5" y1="202.1" x2="443.5" y2="207.5" stroke="#9a9acc" stroke-width="0.65" />
<line x1="441.6" y1="202.1" x2="445.4" y2="202.1" stroke="#9a9acc" stroke-width="0.65" />
<line x1="441.6" y1="207.5" x2="445.4" y2="207.5" stroke="#9a9acc" stroke-width="0.65" />
<rect x="441.85" y="203.15" width="3.3" height="3.3" fill="#6a6aa6" />
<line x1="466.1" y1="209.1" x2="466.1" y2="225" stroke="#d6d6d6" stroke-width="0.65" />
<line x1="464.20000000000005" y1="209.1" x2="468.0" y2="209.1" stroke="#d6d6d6" stroke-width="0.65" />
<line x1="464.20000000000005" y1="225" x2="468.0" y2="225" stroke="#d6d6d6" stroke-width="0.65" />
<rect x="464.45000000000005" y="216.25" width="3.3" height="3.3" fill="#bdbdbd" />
<line x1="466.1" y1="195" x2="466.1" y2="208.6" stroke="#9a9acc" stroke-width="0.65" />
<line x1="464.20000000000005" y1="195" x2="468.0" y2="195" stroke="#9a9acc" stroke-width="0.65" />
<line x1="464.20000000000005" y1="208.6" x2="468.0" y2="208.6" stroke="#9a9acc" stroke-width="0.65" />
<rect x="464.45000000000005" y="200.04999999999998" width="3.3" height="3.3" fill="#6a6aa6" />
<line x1="487.7" y1="218.4" x2="487.7" y2="233.9" stroke="#d6d6d6" stroke-width="0.65" />
<line x1="485.8" y1="218.4" x2="489.59999999999997" y2="218.4" stroke="#d6d6d6" stroke-width="0.65" />
<line x1="485.8" y1="233.9" x2="489.59999999999997" y2="233.9" stroke="#d6d6d6" stroke-width="0.65" />
<rect x="486.05" y="224.95" width="3.3" height="3.3" fill="#bdbdbd" />
<line x1="487.7" y1="192.3" x2="487.7" y2="208.1" stroke="#9a9acc" stroke-width="0.65" />
<line x1="485.8" y1="192.3" x2="489.59999999999997" y2="192.3" stroke="#9a9acc" stroke-width="0.65" />
<line x1="485.8" y1="208.1" x2="489.59999999999997" y2="208.1" stroke="#9a9acc" stroke-width="0.65" />
<rect x="486.05" y="198.75" width="3.3" height="3.3" fill="#6a6aa6" />
<line x1="510.2" y1="221.7" x2="510.2" y2="236.9" stroke="#d6d6d6" stroke-width="0.65" />
<line x1="508.3" y1="221.7" x2="512.1" y2="221.7" stroke="#d6d6d6" stroke-width="0.65" />
<line x1="508.3" y1="236.9" x2="512.1" y2="236.9" stroke="#d6d6d6" stroke-width="0.65" />
<rect x="508.55" y="227.35" width="3.3" height="3.3" fill="#bdbdbd" />
<line x1="510.2" y1="190.1" x2="510.2" y2="205.8" stroke="#9a9acc" stroke-width="0.65" />
<line x1="508.3" y1="190.1" x2="512.1" y2="190.1" stroke="#9a9acc" stroke-width="0.65" />
<line x1="508.3" y1="205.8" x2="512.1" y2="205.8" stroke="#9a9acc" stroke-width="0.65" />
<rect x="508.55" y="196.04999999999998" width="3.3" height="3.3" fill="#6a6aa6" />
<text x="487.7" y="192.1" font-size="6" text-anchor="middle" fill="#222" font-weight="normal" font-style="normal" letter-spacing="0.25" stroke="#222" stroke-width="0.1">*</text>
<text x="510.2" y="190.1" font-size="6" text-anchor="middle" fill="#222" font-weight="normal" font-style="normal" letter-spacing="0.25" stroke="#222" stroke-width="0.1">*</text>
<line x1="46.4" y1="295.5" x2="46.4" y2="384.75" stroke="#1e1e1e" stroke-width="1.1" />
<line x1="43.6" y1="298.1" x2="46.4" y2="298.1" stroke="#1e1e1e" stroke-width="0.9" />
<text x="40.0" y="300.08000000000004" font-size="5.5" text-anchor="end" fill="#2a2a2a" font-weight="normal" font-style="normal"  stroke="#2a2a2a" stroke-width="0.2">125</text>
<line x1="43.6" y1="315.3" x2="46.4" y2="315.3" stroke="#1e1e1e" stroke-width="0.9" />
<text x="40.0" y="317.28000000000003" font-size="5.5" text-anchor="end" fill="#2a2a2a" font-weight="normal" font-style="normal"  stroke="#2a2a2a" stroke-width="0.2">100</text>
<line x1="43.6" y1="332.5" x2="46.4" y2="332.5" stroke="#1e1e1e" stroke-width="0.9" />
<text x="40.0" y="334.48" font-size="5.5" text-anchor="end" fill="#2a2a2a" font-weight="normal" font-style="normal"  stroke="#2a2a2a" stroke-width="0.2">75</text>
<line x1="43.6" y1="349.8" x2="46.4" y2="349.8" stroke="#1e1e1e" stroke-width="0.9" />
<text x="40.0" y="351.78000000000003" font-size="5.5" text-anchor="end" fill="#2a2a2a" font-weight="normal" font-style="normal"  stroke="#2a2a2a" stroke-width="0.2">50</text>
<line x1="43.6" y1="367" x2="46.4" y2="367" stroke="#1e1e1e" stroke-width="0.9" />
<text x="40.0" y="368.98" font-size="5.5" text-anchor="end" fill="#2a2a2a" font-weight="normal" font-style="normal"  stroke="#2a2a2a" stroke-width="0.2">25</text>
<line x1="43.6" y1="384.2" x2="46.4" y2="384.2" stroke="#1e1e1e" stroke-width="0.9" />
<text x="40.0" y="386.18" font-size="5.5" text-anchor="end" fill="#2a2a2a" font-weight="normal" font-style="normal"  stroke="#2a2a2a" stroke-width="0.2">0</text>
<line x1="43.8" y1="384.2" x2="157.2" y2="384.2" stroke="#1e1e1e" stroke-width="1.2" />
<rect x="51.9" y="356.3" width="6.9" height="27.9" fill="#f08e12" />
<rect x="51.9" y="350.58" width="6.9" height="5.72" fill="#f6be16" />
<rect x="51.9" y="343.82" width="6.9" height="6.75" fill="#0d4e3b" />
<rect x="51.9" y="315.3" width="6.9" height="28.52" fill="#34a3d8" />
<line x1="55.35" y1="315.3" x2="55.35" y2="309.9258" stroke="#6cc0e6" stroke-width="0.8" />
<line x1="52.95" y1="309.9258" x2="57.75" y2="309.9258" stroke="#6cc0e6" stroke-width="0.8" />
<line x1="55.35" y1="384.2" x2="55.35" y2="386.59999999999997" stroke="#1e1e1e" stroke-width="0.8" />
<text x="55.550000000000004" y="395.4" font-size="5.6" text-anchor="middle" fill="#2a2a2a" font-weight="normal" font-style="normal"  stroke="#2a2a2a" stroke-width="0.2">CT</text>
<rect x="65.1" y="355.81" width="6.9" height="28.39" fill="#f08e12" />
<rect x="65.1" y="352.09" width="6.9" height="3.72" fill="#f6be16" />
<rect x="65.1" y="346.93" width="6.9" height="5.17" fill="#0d4e3b" />
<rect x="65.1" y="315.3" width="6.9" height="31.63" fill="#34a3d8" />
<line x1="68.55" y1="315.3" x2="68.55" y2="310.477" stroke="#6cc0e6" stroke-width="0.8" />
<line x1="66.14999999999999" y1="310.477" x2="70.95" y2="310.477" stroke="#6cc0e6" stroke-width="0.8" />
<line x1="68.55" y1="384.2" x2="68.55" y2="386.59999999999997" stroke="#1e1e1e" stroke-width="0.8" />
<text x="68.75" y="395.4" font-size="5.6" text-anchor="middle" fill="#2a2a2a" font-weight="normal" font-style="normal"  stroke="#2a2a2a" stroke-width="0.2">KD</text>
<rect x="78.4" y="344.93" width="6.9" height="39.27" fill="#f08e12" />
<rect x="78.4" y="323.02" width="6.9" height="21.91" fill="#f6be16" />
<rect x="78.4" y="320.81" width="6.9" height="2.2" fill="#0d4e3b" />
<rect x="78.4" y="315.3" width="6.9" height="5.51" fill="#34a3d8" />
<line x1="81.85000000000001" y1="315.3" x2="81.85000000000001" y2="312.544" stroke="#6cc0e6" stroke-width="0.8" />
<line x1="79.45" y1="312.544" x2="84.25000000000001" y2="312.544" stroke="#6cc0e6" stroke-width="0.8" />
<line x1="81.85000000000001" y1="384.2" x2="81.85000000000001" y2="386.59999999999997" stroke="#1e1e1e" stroke-width="0.8" />
<text x="82.05000000000001" y="395.4" font-size="5.6" text-anchor="middle" fill="#2a2a2a" font-weight="normal" font-style="normal"  stroke="#2a2a2a" stroke-width="0.2">CT</text>
<rect x="91.6" y="339.14" width="6.9" height="45.06" fill="#f08e12" />
<rect x="91.6" y="329.63" width="6.9" height="9.51" fill="#f6be16" />
<rect x="91.6" y="327.01" width="6.9" height="2.62" fill="#0d4e3b" />
<rect x="91.6" y="315.3" width="6.9" height="11.71" fill="#34a3d8" />
<line x1="95.05" y1="315.3" x2="95.05" y2="313.0263" stroke="#6cc0e6" stroke-width="0.8" />
<line x1="92.64999999999999" y1="313.0263" x2="97.45" y2="313.0263" stroke="#6cc0e6" stroke-width="0.8" />
<line x1="95.05" y1="384.2" x2="95.05" y2="386.59999999999997" stroke="#1e1e1e" stroke-width="0.8" />
<text x="95.25" y="395.4" font-size="5.6" text-anchor="middle" fill="#2a2a2a" font-weight="normal" font-style="normal"  stroke="#2a2a2a" stroke-width="0.2">KD</text>
<rect x="105" y="354.57" width="6.9" height="29.63" fill="#f08e12" />
<rect x="105" y="321.16" width="6.9" height="33.42" fill="#f6be16" />
<rect x="105" y="318.75" width="6.9" height="2.41" fill="#0d4e3b" />
<rect x="105" y="315.3" width="6.9" height="3.44" fill="#34a3d8" />
<line x1="108.45" y1="315.3" x2="108.45" y2="313.233" stroke="#6cc0e6" stroke-width="0.8" />
<line x1="106.05" y1="313.233" x2="110.85000000000001" y2="313.233" stroke="#6cc0e6" stroke-width="0.8" />
<line x1="108.45" y1="384.2" x2="108.45" y2="386.59999999999997" stroke="#1e1e1e" stroke-width="0.8" />
<text x="108.65" y="395.4" font-size="5.6" text-anchor="middle" fill="#2a2a2a" font-weight="normal" font-style="normal"  stroke="#2a2a2a" stroke-width="0.2">CT</text>
<rect x="118.1" y="338.04" width="6.9" height="46.16" fill="#f08e12" />
<rect x="118.1" y="329.77" width="6.9" height="8.27" fill="#f6be16" />
<rect x="118.1" y="327.7" width="6.9" height="2.07" fill="#0d4e3b" />
<rect x="118.1" y="315.3" width="6.9" height="12.4" fill="#34a3d8" />
<line x1="121.55" y1="315.3" x2="121.55" y2="311.9928" stroke="#6cc0e6" stroke-width="0.8" />
<line x1="119.14999999999999" y1="311.9928" x2="123.95" y2="311.9928" stroke="#6cc0e6" stroke-width="0.8" />
<line x1="121.55" y1="384.2" x2="121.55" y2="386.59999999999997" stroke="#1e1e1e" stroke-width="0.8" />
<text x="121.75" y="395.4" font-size="5.6" text-anchor="middle" fill="#2a2a2a" font-weight="normal" font-style="normal"  stroke="#2a2a2a" stroke-width="0.2">KD</text>
<rect x="131.4" y="346.03" width="6.9" height="38.17" fill="#f08e12" />
<rect x="131.4" y="321.02" width="6.9" height="25.01" fill="#f6be16" />
<rect x="131.4" y="318.47" width="6.9" height="2.55" fill="#0d4e3b" />
<rect x="131.4" y="315.3" width="6.9" height="3.17" fill="#34a3d8" />
<line x1="134.85" y1="315.3" x2="134.85" y2="313.233" stroke="#6cc0e6" stroke-width="0.8" />
<line x1="132.45" y1="313.233" x2="137.25" y2="313.233" stroke="#6cc0e6" stroke-width="0.8" />
<line x1="134.85" y1="384.2" x2="134.85" y2="386.59999999999997" stroke="#1e1e1e" stroke-width="0.8" />
<text x="135.04999999999998" y="395.4" font-size="5.6" text-anchor="middle" fill="#2a2a2a" font-weight="normal" font-style="normal"  stroke="#2a2a2a" stroke-width="0.2">CT</text>
<rect x="144.9" y="341.0" width="6.9" height="43.2" fill="#f08e12" />
<rect x="144.9" y="334.39" width="6.9" height="6.61" fill="#f6be16" />
<rect x="144.9" y="331.15" width="6.9" height="3.24" fill="#0d4e3b" />
<rect x="144.9" y="315.3" width="6.9" height="15.85" fill="#34a3d8" />
<line x1="148.35" y1="315.3" x2="148.35" y2="311.9928" stroke="#6cc0e6" stroke-width="0.8" />
<line x1="145.95" y1="311.9928" x2="150.75" y2="311.9928" stroke="#6cc0e6" stroke-width="0.8" />
<line x1="148.35" y1="384.2" x2="148.35" y2="386.59999999999997" stroke="#1e1e1e" stroke-width="0.8" />
<text x="148.54999999999998" y="395.4" font-size="5.6" text-anchor="middle" fill="#2a2a2a" font-weight="normal" font-style="normal"  stroke="#2a2a2a" stroke-width="0.2">KD</text>
<line x1="51.3" y1="398.2" x2="72.4" y2="398.2" stroke="#3a3a3a" stroke-width="0.7" />
<text x="61.95" y="405.1" font-size="5.6" text-anchor="middle" fill="#2a2a2a" font-weight="normal" font-style="normal"  stroke="#2a2a2a" stroke-width="0.2">4</text>
<line x1="77.80000000000001" y1="398.2" x2="98.9" y2="398.2" stroke="#3a3a3a" stroke-width="0.7" />
<text x="88.45" y="405.1" font-size="5.6" text-anchor="middle" fill="#2a2a2a" font-weight="normal" font-style="normal"  stroke="#2a2a2a" stroke-width="0.2">8</text>
<line x1="104.4" y1="398.2" x2="125.4" y2="398.2" stroke="#3a3a3a" stroke-width="0.7" />
<text x="115.0" y="405.1" font-size="5.6" text-anchor="middle" fill="#2a2a2a" font-weight="normal" font-style="normal"  stroke="#2a2a2a" stroke-width="0.2">12</text>
<line x1="130.8" y1="398.2" x2="152.20000000000002" y2="398.2" stroke="#3a3a3a" stroke-width="0.7" />
<text x="141.60000000000002" y="405.1" font-size="5.6" text-anchor="middle" fill="#2a2a2a" font-weight="normal" font-style="normal"  stroke="#2a2a2a" stroke-width="0.2">16</text>
<text x="33.9" y="405.1" font-size="5.6" text-anchor="start" fill="#2a2a2a" font-weight="normal" font-style="normal" textLength="16" lengthAdjust="spacingAndGlyphs" stroke="#2a2a2a" stroke-width="0.2">Week:</text>
<text x="121.6" y="314.20000000000005" font-size="6" text-anchor="middle" fill="#222" font-weight="normal" font-style="normal" letter-spacing="0.25" stroke="#222" stroke-width="0.1">*</text>
<text x="148.4" y="313.8" font-size="6" text-anchor="middle" fill="#222" font-weight="normal" font-style="normal" letter-spacing="0.25" stroke="#222" stroke-width="0.1">*</text>
<line x1="121.55" y1="316.5" x2="121.55" y2="327.5" stroke="#1c4e86" stroke-width="0.8" stroke-dasharray="0.9 1.1"/>
<line x1="148.35" y1="317.5" x2="148.35" y2="331" stroke="#1c4e86" stroke-width="0.8" stroke-dasharray="0.9 1.1"/>
<line x1="95.05" y1="321" x2="95.05" y2="326" stroke="#1c4e86" stroke-width="0.8" stroke-dasharray="0.9 1.1"/>
<text transform="translate(24.809,340) rotate(-90)" x="0" y="0" font-size="6.7" text-anchor="middle" fill="#1a1a1a" stroke="#1a1a1a" stroke-width="0.3" textLength="26.1" lengthAdjust="spacingAndGlyphs">%CD45.2+</text>
<rect x="168.8" y="329.7" width="4.3" height="4.1" fill="#34a3d8" />
<text x="175.9" y="334" font-size="6" text-anchor="start" fill="#2a2a2a" font-weight="normal" font-style="normal" textLength="35.2" lengthAdjust="spacingAndGlyphs" stroke="#2a2a2a" stroke-width="0.2">Granulocytes</text>
<rect x="168.8" y="337.7" width="4.3" height="4.1" fill="#0d4e3b" />
<text x="175.9" y="342" font-size="6" text-anchor="start" fill="#2a2a2a" font-weight="normal" font-style="normal" textLength="28.5" lengthAdjust="spacingAndGlyphs" stroke="#2a2a2a" stroke-width="0.2">Monocytes</text>
<rect x="168.8" y="346.0" width="4.3" height="4.1" fill="#f6be16" />
<text x="175.9" y="350.3" font-size="6" text-anchor="start" fill="#2a2a2a" font-weight="normal" font-style="normal" textLength="16.7" lengthAdjust="spacingAndGlyphs" stroke="#2a2a2a" stroke-width="0.2">T cells</text>
<rect x="168.8" y="354.0" width="4.3" height="4.1" fill="#f08e12" />
<text x="175.9" y="358.3" font-size="6" text-anchor="start" fill="#2a2a2a" font-weight="normal" font-style="normal" textLength="17.5" lengthAdjust="spacingAndGlyphs" stroke="#2a2a2a" stroke-width="0.2">B cells</text>
<line x1="273.9" y1="310.2" x2="273.9" y2="394.75" stroke="#1e1e1e" stroke-width="1.1" />
<line x1="271.09999999999997" y1="312.8" x2="273.9" y2="312.8" stroke="#1e1e1e" stroke-width="0.9" />
<text x="267.7" y="314.78000000000003" font-size="5.5" text-anchor="end" fill="#2a2a2a" font-weight="normal" font-style="normal"  stroke="#2a2a2a" stroke-width="0.2">80</text>
<line x1="271.09999999999997" y1="333.1" x2="273.9" y2="333.1" stroke="#1e1e1e" stroke-width="0.9" />
<text x="267.7" y="335.08000000000004" font-size="5.5" text-anchor="end" fill="#2a2a2a" font-weight="normal" font-style="normal"  stroke="#2a2a2a" stroke-width="0.2">60</text>
<line x1="271.09999999999997" y1="353.5" x2="273.9" y2="353.5" stroke="#1e1e1e" stroke-width="0.9" />
<text x="267.7" y="355.48" font-size="5.5" text-anchor="end" fill="#2a2a2a" font-weight="normal" font-style="normal"  stroke="#2a2a2a" stroke-width="0.2">40</text>
<line x1="271.09999999999997" y1="373.8" x2="273.9" y2="373.8" stroke="#1e1e1e" stroke-width="0.9" />
<text x="267.7" y="375.78000000000003" font-size="5.5" text-anchor="end" fill="#2a2a2a" font-weight="normal" font-style="normal"  stroke="#2a2a2a" stroke-width="0.2">20</text>
<line x1="271.09999999999997" y1="394.2" x2="273.9" y2="394.2" stroke="#1e1e1e" stroke-width="0.9" />
<text x="267.7" y="396.18" font-size="5.5" text-anchor="end" fill="#2a2a2a" font-weight="normal" font-style="normal"  stroke="#2a2a2a" stroke-width="0.2">0</text>
<rect x="277.5" y="374.8" width="10.300000000000011" height="19.399999999999977" fill="#c60022" />
<rect x="292.2" y="329.4" width="10.0" height="64.80000000000001" fill="#124a80" />
<line x1="271.09999999999997" y1="394.2" x2="306.9" y2="394.2" stroke="#1e1e1e" stroke-width="1.2" />
<line x1="282.65" y1="394.2" x2="282.65" y2="396.8" stroke="#1e1e1e" stroke-width="0.9" />
<text x="282.65" y="405.2" font-size="5.7" text-anchor="middle" fill="#2a2a2a" font-weight="normal" font-style="normal"  stroke="#2a2a2a" stroke-width="0.2">CT</text>
<line x1="297.2" y1="394.2" x2="297.2" y2="396.8" stroke="#1e1e1e" stroke-width="0.9" />
<text x="297.2" y="405.2" font-size="5.7" text-anchor="middle" fill="#2a2a2a" font-weight="normal" font-style="normal"  stroke="#2a2a2a" stroke-width="0.2">KD</text>
<line x1="282.65" y1="374.8" x2="282.65" y2="365" stroke="#d85a6c" stroke-width="0.9" />
<line x1="279.45" y1="365" x2="285.84999999999997" y2="365" stroke="#c60022" stroke-width="0.9" />
<line x1="297.2" y1="329.4" x2="297.2" y2="320.2" stroke="#5d80b5" stroke-width="0.9" />
<line x1="294.0" y1="320.2" x2="300.4" y2="320.2" stroke="#124a80" stroke-width="0.9" />
<line x1="283.3" y1="314.7" x2="298.2" y2="314.7" stroke="#1e1e1e" stroke-width="0.8" />
<text x="290.75" y="315.1" font-size="6" text-anchor="middle" fill="#222" font-weight="normal" font-style="normal" letter-spacing="0.25" stroke="#222" stroke-width="0.1">**</text>
<text x="290.4" y="305.2" font-size="8.6" text-anchor="middle" fill="#1e1e1e" font-weight="normal" font-style="normal" textLength="27.6" lengthAdjust="spacingAndGlyphs" stroke="#1e1e1e" stroke-width="0.2">CD71+</text>
<text transform="translate(255.109,352.7) rotate(-90)" x="0" y="0" font-size="6.7" text-anchor="middle" fill="#1a1a1a" stroke="#1a1a1a" stroke-width="0.3" textLength="26.2" lengthAdjust="spacingAndGlyphs">%CD45.2+</text>
<line x1="373.5" y1="307.0" x2="373.5" y2="394.75" stroke="#1e1e1e" stroke-width="1.1" />
<line x1="370.7" y1="309.6" x2="373.5" y2="309.6" stroke="#1e1e1e" stroke-width="0.9" />
<text x="367.3" y="311.58000000000004" font-size="5.5" text-anchor="end" fill="#2a2a2a" font-weight="normal" font-style="normal"  stroke="#2a2a2a" stroke-width="0.2">150</text>
<line x1="370.7" y1="337.8" x2="373.5" y2="337.8" stroke="#1e1e1e" stroke-width="0.9" />
<text x="367.3" y="339.78000000000003" font-size="5.5" text-anchor="end" fill="#2a2a2a" font-weight="normal" font-style="normal"  stroke="#2a2a2a" stroke-width="0.2">100</text>
<line x1="370.7" y1="366" x2="373.5" y2="366" stroke="#1e1e1e" stroke-width="0.9" />
<text x="367.3" y="367.98" font-size="5.5" text-anchor="end" fill="#2a2a2a" font-weight="normal" font-style="normal"  stroke="#2a2a2a" stroke-width="0.2">50</text>
<line x1="370.7" y1="394.2" x2="373.5" y2="394.2" stroke="#1e1e1e" stroke-width="0.9" />
<text x="367.3" y="396.18" font-size="5.5" text-anchor="end" fill="#2a2a2a" font-weight="normal" font-style="normal"  stroke="#2a2a2a" stroke-width="0.2">0</text>
<rect x="377.3" y="338.5" width="10.099999999999966" height="55.69999999999999" fill="#c60022" />
<rect x="392" y="371" width="9.800000000000011" height="23.19999999999999" fill="#124a80" />
<line x1="370.7" y1="394.2" x2="406.6" y2="394.2" stroke="#1e1e1e" stroke-width="1.2" />
<line x1="382.35" y1="394.2" x2="382.35" y2="396.8" stroke="#1e1e1e" stroke-width="0.9" />
<text x="382.35" y="405.2" font-size="5.7" text-anchor="middle" fill="#2a2a2a" font-weight="normal" font-style="normal"  stroke="#2a2a2a" stroke-width="0.2">CT</text>
<line x1="396.9" y1="394.2" x2="396.9" y2="396.8" stroke="#1e1e1e" stroke-width="0.9" />
<text x="396.9" y="405.2" font-size="5.7" text-anchor="middle" fill="#2a2a2a" font-weight="normal" font-style="normal"  stroke="#2a2a2a" stroke-width="0.2">KD</text>
<line x1="382.35" y1="338.5" x2="382.35" y2="327.1" stroke="#d85a6c" stroke-width="0.9" />
<line x1="379.15000000000003" y1="327.1" x2="385.55" y2="327.1" stroke="#c60022" stroke-width="0.9" />
<line x1="396.9" y1="371" x2="396.9" y2="368.9" stroke="#5d80b5" stroke-width="0.9" />
<line x1="393.7" y1="368.9" x2="400.09999999999997" y2="368.9" stroke="#124a80" stroke-width="0.9" />
<line x1="381.7" y1="322.4" x2="395.9" y2="322.4" stroke="#1e1e1e" stroke-width="0.8" />
<text x="388.79999999999995" y="322.8" font-size="6" text-anchor="middle" fill="#222" font-weight="normal" font-style="normal" letter-spacing="0.25" stroke="#222" stroke-width="0.1">**</text>
<text x="389.6" y="302.8" font-size="8" text-anchor="middle" fill="#1e1e1e" font-weight="normal" font-style="normal" textLength="23.8" lengthAdjust="spacingAndGlyphs" stroke="#1e1e1e" stroke-width="0.2">Kit MFI</text>
<text transform="translate(351.755,350.3) rotate(-90)" x="0" y="0" font-size="6.5" text-anchor="middle" fill="#1a1a1a" stroke="#1a1a1a" stroke-width="0.3" textLength="54.3" lengthAdjust="spacingAndGlyphs">CD45.2+ (%max MFI)</text>
<line x1="473.5" y1="306.59999999999997" x2="473.5" y2="394.75" stroke="#1e1e1e" stroke-width="1.1" />
<line x1="470.7" y1="309.2" x2="473.5" y2="309.2" stroke="#1e1e1e" stroke-width="0.9" />
<text x="467.3" y="311.18" font-size="5.5" text-anchor="end" fill="#2a2a2a" font-weight="normal" font-style="normal"  stroke="#2a2a2a" stroke-width="0.2">100</text>
<line x1="470.7" y1="326.2" x2="473.5" y2="326.2" stroke="#1e1e1e" stroke-width="0.9" />
<text x="467.3" y="328.18" font-size="5.5" text-anchor="end" fill="#2a2a2a" font-weight="normal" font-style="normal"  stroke="#2a2a2a" stroke-width="0.2">80</text>
<line x1="470.7" y1="343.2" x2="473.5" y2="343.2" stroke="#1e1e1e" stroke-width="0.9" />
<text x="467.3" y="345.18" font-size="5.5" text-anchor="end" fill="#2a2a2a" font-weight="normal" font-style="normal"  stroke="#2a2a2a" stroke-width="0.2">60</text>
<line x1="470.7" y1="360.2" x2="473.5" y2="360.2" stroke="#1e1e1e" stroke-width="0.9" />
<text x="467.3" y="362.18" font-size="5.5" text-anchor="end" fill="#2a2a2a" font-weight="normal" font-style="normal"  stroke="#2a2a2a" stroke-width="0.2">40</text>
<line x1="470.7" y1="377.2" x2="473.5" y2="377.2" stroke="#1e1e1e" stroke-width="0.9" />
<text x="467.3" y="379.18" font-size="5.5" text-anchor="end" fill="#2a2a2a" font-weight="normal" font-style="normal"  stroke="#2a2a2a" stroke-width="0.2">20</text>
<line x1="470.7" y1="394.2" x2="473.5" y2="394.2" stroke="#1e1e1e" stroke-width="0.9" />
<text x="467.3" y="396.18" font-size="5.5" text-anchor="end" fill="#2a2a2a" font-weight="normal" font-style="normal"  stroke="#2a2a2a" stroke-width="0.2">0</text>
<rect x="477.3" y="372.9" width="9.800000000000011" height="21.30000000000001" fill="#c60022" />
<rect x="492.2" y="332" width="9.300000000000011" height="62.19999999999999" fill="#124a80" />
<line x1="470.7" y1="394.2" x2="506.6" y2="394.2" stroke="#1e1e1e" stroke-width="1.2" />
<line x1="482.20000000000005" y1="394.2" x2="482.20000000000005" y2="396.8" stroke="#1e1e1e" stroke-width="0.9" />
<text x="482.20000000000005" y="405.2" font-size="5.7" text-anchor="middle" fill="#2a2a2a" font-weight="normal" font-style="normal"  stroke="#2a2a2a" stroke-width="0.2">CT</text>
<line x1="496.85" y1="394.2" x2="496.85" y2="396.8" stroke="#1e1e1e" stroke-width="0.9" />
<text x="496.85" y="405.2" font-size="5.7" text-anchor="middle" fill="#2a2a2a" font-weight="normal" font-style="normal"  stroke="#2a2a2a" stroke-width="0.2">KD</text>
<line x1="482.20000000000005" y1="372.9" x2="482.20000000000005" y2="362.9" stroke="#d85a6c" stroke-width="0.9" />
<line x1="479.00000000000006" y1="362.9" x2="485.40000000000003" y2="362.9" stroke="#c60022" stroke-width="0.9" />
<line x1="496.85" y1="332" x2="496.85" y2="323" stroke="#5d80b5" stroke-width="0.9" />
<line x1="493.65000000000003" y1="323" x2="500.05" y2="323" stroke="#124a80" stroke-width="0.9" />
<line x1="481.8" y1="319.4" x2="496.7" y2="319.4" stroke="#1e1e1e" stroke-width="0.8" />
<text x="489.25" y="319.8" font-size="6" text-anchor="middle" fill="#222" font-weight="normal" font-style="normal" letter-spacing="0.25" stroke="#222" stroke-width="0.1">**</text>
<text x="490.2" y="302.1" font-size="8" text-anchor="middle" fill="#1e1e1e" font-weight="normal" font-style="normal" textLength="47.5" lengthAdjust="spacingAndGlyphs" stroke="#1e1e1e" stroke-width="0.2">Bone Marrow</text>
<text transform="translate(451.009,350.5) rotate(-90)" x="0" y="0" font-size="6.7" text-anchor="middle" fill="#1a1a1a" stroke="#1a1a1a" stroke-width="0.3" textLength="26.7" lengthAdjust="spacingAndGlyphs">%CD45.2+</text>
<text x="120" y="433.6" font-size="7.8" text-anchor="start" fill="#222" font-weight="normal" font-style="normal" textLength="97.7" lengthAdjust="spacingAndGlyphs" stroke="#222" stroke-width="0.2">Normal Erythroid Precursors</text>
<rect x="84.9" y="483" width="150.3" height="7.4" fill="#bababa" stroke="#9a9a9a" stroke-width="0.4"/>
<rect x="139.4" y="483.2" width="52.4" height="7.0" fill="#80cc7e" />
<text x="163.8" y="489.2" font-size="5.8" text-anchor="middle" fill="#1d4d25" font-weight="normal" font-style="normal"  stroke="#1d4d25" stroke-width="0.2">GC-Rich</text>
<circle cx="87.6" cy="448.4" r="4.75" fill="#cde62a" stroke="#6a7a18" stroke-width="0.8"/>
<text x="87.6" y="450.2" font-size="5.3" text-anchor="middle" fill="#3c3c06" font-weight="normal" font-style="normal"  stroke="#3c3c06" stroke-width="0.2">Me</text>
<circle cx="101.5" cy="449.3" r="4.75" fill="#cde62a" stroke="#6a7a18" stroke-width="0.8"/>
<text x="101.5" y="451.1" font-size="5.3" text-anchor="middle" fill="#3c3c06" font-weight="normal" font-style="normal"  stroke="#3c3c06" stroke-width="0.2">Me</text>
<line x1="105.2" y1="452.8" x2="106.2" y2="459" stroke="#111" stroke-width="1.7" />
<path d="M95.3,483 L95.6,469.0 A10.400000000000002,10.700000000000003 0 0 1 116.4,469.0 L116.7,483 Z" fill="url(#gn1)" stroke="#14803a" stroke-width="0.6"/>
<clipPath id="cgn1"><path d="M95.3,483 L95.6,469.0 A10.400000000000002,10.700000000000003 0 0 1 116.4,469.0 L116.7,483 Z"/></clipPath>
<g clip-path="url(#cgn1)">
<line x1="101.292" y1="484" x2="114.988" y2="459.535" stroke="#d8eca0" stroke-width="1.6" opacity="0.5"/>
<line x1="96.798" y1="483" x2="110.708" y2="458.8" stroke="#111" stroke-width="2.1"/>
<line x1="104.288" y1="483" x2="116.7" y2="465.216" stroke="#111" stroke-width="2.1"/>
</g>
<text x="84.4" y="461.3" font-size="5.6" text-anchor="start" fill="#26263a" font-weight="normal" font-style="normal" textLength="14.4" lengthAdjust="spacingAndGlyphs" stroke="#26263a" stroke-width="0.2">H3K4</text>
<ellipse cx="129.5" cy="464.5" rx="12.6" ry="15.8" fill="url(#gp)" stroke="#9a3a6c" stroke-width="0.7" transform="rotate(-25 129.5 464.5)"/>
<text x="129.5" y="466.6" font-size="5.8" text-anchor="middle" fill="#4a2a48" font-weight="normal" font-style="normal"  stroke="#4a2a48" stroke-width="0.2">LSD1</text>
<ellipse cx="150.9" cy="472.5" rx="12.7" ry="9.9" fill="url(#gb)" stroke="#2a3290" stroke-width="0.7" transform="rotate(0 150.9 472.5)"/>
<text x="151.2" y="474.6" font-size="5.4" text-anchor="middle" fill="#3a2a60" font-weight="normal" font-style="normal"  stroke="#3a2a60" stroke-width="0.2">Samd</text>
<ellipse cx="173.8" cy="474.3" rx="13.8" ry="10.1" fill="url(#gb)" stroke="#2a3290" stroke-width="0.7" transform="rotate(8 173.8 474.3)"/>
<text x="174.2" y="476.4" font-size="5.4" text-anchor="middle" fill="#3a2a60" font-weight="normal" font-style="normal"  stroke="#3a2a60" stroke-width="0.2">Samd1</text>
<path d="M129.6,446.5 C137,447.5 144,449 148,452.3 C151,454.5 153.6,457 155.6,459.8" stroke="#111" stroke-width="2.3" fill="none"/>
<path d="M148,452.3 C165,447 185,443 203,442.6 C214,442.4 224,447 225.6,457.8" stroke="#111" stroke-width="2.3" fill="none"/>
<line x1="219.2" y1="458.6" x2="230.8" y2="458.6" stroke="#111" stroke-width="2.2" />
<path d="M158.5,454.6 C163,452.6 170,453 174.6,455.2 C176.6,457 178.2,460 179.2,463.3" stroke="#111" stroke-width="2.3" fill="none"/>
<path d="M174.6,455.2 C180,451 186,448.3 190.4,448.3 C194.5,448.3 196.8,452.5 197.3,459" stroke="#111" stroke-width="2.3" fill="none"/>
<polygon points="192.7,458.7 201.9,458.7 197.3,466.7" fill="#111"/>
<text x="198.2" y="473.6" font-size="5.9" text-anchor="middle" fill="#222" font-weight="normal" font-style="italic"  stroke="#222" stroke-width="0.2">GATA2</text>
<path d="M195.1,483 L195.1,477.8 L202.4,477.8" stroke="#111" stroke-width="1.9" fill="none"/>
<polygon points="206.2,477.8 201.8,475.1 201.8,480.5" fill="#111"/>
<path d="M225.2,483 L225.2,478.8 L233.2,478.8" stroke="#111" stroke-width="1.9" fill="none"/>
<polygon points="237.2,478.8 232.8,476.1 232.8,481.5" fill="#111"/>
<text x="228.6" y="467.7" font-size="6.3" text-anchor="middle" fill="#222" font-weight="normal" font-style="italic" textLength="21.3" lengthAdjust="spacingAndGlyphs" stroke="#222" stroke-width="0.2">SLC4A1</text>
<text x="229.3" y="475.2" font-size="6.3" text-anchor="middle" fill="#222" font-weight="normal" font-style="italic" textLength="23.4" lengthAdjust="spacingAndGlyphs" stroke="#222" stroke-width="0.2">BCL11A</text>
<line x1="194" y1="490.4" x2="194" y2="495.5" stroke="#939393" stroke-width="2.4" />
<polygon points="190.4,495.0 197.6,495.0 194,500.8" fill="#545454"/>
<line x1="228.6" y1="490.4" x2="228.6" y2="495.5" stroke="#939393" stroke-width="2.4" />
<polygon points="225.0,495.0 232.2,495.0 228.6,500.8" fill="#545454"/>
<text x="203.2" y="508.6" font-size="6" text-anchor="middle" fill="#7c4f92" font-weight="normal" font-style="normal" stroke="#7c4f92" stroke-width="0.08" textLength="63.5" lengthAdjust="spacingAndGlyphs">Balanced Erythropoiesis</text>
<line x1="256.1" y1="419" x2="256.1" y2="522" stroke="#6a6a6a" stroke-width="1.25" stroke-dasharray="1.3 2.6"/>
<text x="283" y="433.3" font-size="7.8" text-anchor="start" fill="#222" font-weight="normal" font-style="normal" textLength="135.8" lengthAdjust="spacingAndGlyphs" stroke="#222" stroke-width="0.2">SAMD1 Knockout Erythroid Precursors</text>
<rect x="279.5" y="479.5" width="139.3" height="6.8" fill="#bababa" stroke="#9a9a9a" stroke-width="0.4"/>
<rect x="332.5" y="479.7" width="41.3" height="6.4" fill="#80cc7e" />
<text x="349" y="485.4" font-size="5.8" text-anchor="middle" fill="#1d4d25" font-weight="normal" font-style="normal"  stroke="#1d4d25" stroke-width="0.2">GC-Rich</text>
<circle cx="281.7" cy="443.3" r="4.75" fill="#cde62a" stroke="#6a7a18" stroke-width="0.8"/>
<text x="281.7" y="445.1" font-size="5.3" text-anchor="middle" fill="#3c3c06" font-weight="normal" font-style="normal"  stroke="#3c3c06" stroke-width="0.2">Me</text>
<circle cx="291.2" cy="444.5" r="4.75" fill="#cde62a" stroke="#6a7a18" stroke-width="0.8"/>
<text x="291.2" y="446.3" font-size="5.3" text-anchor="middle" fill="#3c3c06" font-weight="normal" font-style="normal"  stroke="#3c3c06" stroke-width="0.2">Me</text>
<line x1="294.6" y1="448.8" x2="296" y2="454" stroke="#111" stroke-width="1.8" />
<path d="M283.8,479.5 L284.1,463.35 A10.549999999999994,10.849999999999994 0 0 1 305.2,463.35 L305.5,479.5 Z" fill="url(#gn2)" stroke="#14803a" stroke-width="0.6"/>
<clipPath id="cgn2"><path d="M283.8,479.5 L284.1,463.35 A10.549999999999994,10.849999999999994 0 0 1 305.2,463.35 L305.5,479.5 Z"/></clipPath>
<g clip-path="url(#cgn2)">
<line x1="289.87600000000003" y1="480.5" x2="303.764" y2="453.85" stroke="#d8eca0" stroke-width="1.6" opacity="0.5"/>
<line x1="285.319" y1="479.5" x2="299.424" y2="453.0" stroke="#111" stroke-width="2.1"/>
<line x1="292.914" y1="479.5" x2="305.5" y2="460.06" stroke="#111" stroke-width="2.1"/>
</g>
<text x="273.8" y="457.5" font-size="5.6" text-anchor="start" fill="#26263a" font-weight="normal" font-style="normal" textLength="13.7" lengthAdjust="spacingAndGlyphs" stroke="#26263a" stroke-width="0.2">H3K4</text>
<ellipse cx="323" cy="460.4" rx="13.2" ry="15.4" fill="url(#gp)" stroke="#9a3a6c" stroke-width="0.7" transform="rotate(-18 323 460.4)"/>
<text x="322.5" y="462" font-size="5.6" text-anchor="middle" fill="#4a1a38" font-weight="normal" font-style="normal"  stroke="#4a1a38" stroke-width="0.2">LSD1</text>
<text x="380.4" y="473" font-size="5.9" text-anchor="middle" fill="#222" font-weight="normal" font-style="italic"  stroke="#222" stroke-width="0.2">GATA2</text>
<path d="M380.5,479.5 L380.5,476.6 L384.6,476.6" stroke="#111" stroke-width="0.9" fill="none"/>
<polygon points="387,476.6 384.2,475.1 384.2,478.1" fill="#111"/>
<text x="411.8" y="456.8" font-size="5.9" text-anchor="middle" fill="#222" font-weight="normal" font-style="italic" textLength="22.5" lengthAdjust="spacingAndGlyphs" stroke="#222" stroke-width="0.2">SLC4A1</text>
<text x="411.8" y="464.3" font-size="5.9" text-anchor="middle" fill="#222" font-weight="normal" font-style="italic" textLength="22.5" lengthAdjust="spacingAndGlyphs" stroke="#222" stroke-width="0.2">BCL11A</text>
<path d="M407.6,479.5 L407.6,473.6 L419,473.6" stroke="#111" stroke-width="4.2" fill="none"/>
<polygon points="425.6,473.6 418.4,469.2 418.4,478" fill="#111"/>
<line x1="378.6" y1="486.3" x2="378.6" y2="487.70000000000005" stroke="#939393" stroke-width="2.4" />
<polygon points="375.3,487.20000000000005 381.90000000000003,487.20000000000005 378.6,492.6" fill="#545454"/>
<line x1="413.3" y1="486.3" x2="413.3" y2="487.70000000000005" stroke="#939393" stroke-width="2.4" />
<polygon points="410.0,487.20000000000005 416.6,487.20000000000005 413.3,492.6" fill="#545454"/>
<text x="388.3" y="499.6" font-size="6" text-anchor="middle" fill="#7c4f92" font-weight="normal" font-style="normal" stroke="#7c4f92" stroke-width="0.08" textLength="62.9" lengthAdjust="spacingAndGlyphs">Increased Differentiation</text>
<text x="388.2" y="506.6" font-size="6" text-anchor="middle" fill="#7c4f92" font-weight="normal" font-style="normal" stroke="#7c4f92" stroke-width="0.08" textLength="53.6" lengthAdjust="spacingAndGlyphs">Decreased Signaling</text>
<text x="388.2" y="514.3" font-size="6" text-anchor="middle" fill="#5a3f72" font-weight="normal" font-style="normal" stroke="#5a3f72" stroke-width="0.08" textLength="41.5" lengthAdjust="spacingAndGlyphs">More H3K4me2</text>
<rect x="0" y="0" width="520" height="1" fill="#727272" />
<rect x="0" y="0" width="1" height="526" fill="#7a7a7a" />
<rect x="519" y="0" width="1" height="526" fill="#3c3c3c" />
<rect x="0" y="525" width="520" height="1" fill="#444444" />
</g>
</svg>
</body></html>
